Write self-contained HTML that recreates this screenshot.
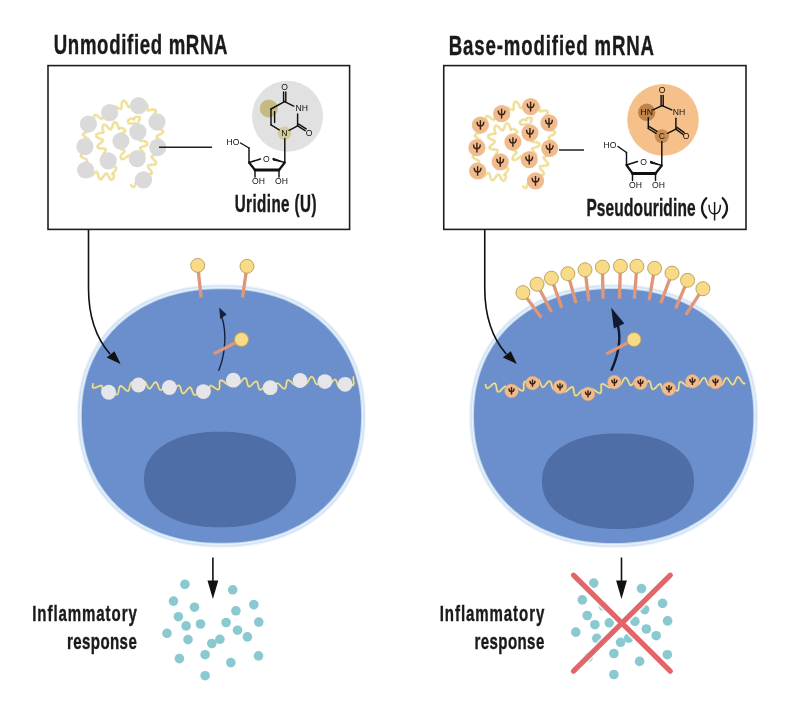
<!DOCTYPE html><html><head><meta charset="utf-8"><style>html,body{margin:0;padding:0;background:#fff;width:800px;height:707px;overflow:hidden}svg{display:block;will-change:transform}text{font-family:"Liberation Sans",sans-serif}</style></head><body>
<svg width="800" height="707" viewBox="0 0 800 707">
<rect width="800" height="707" fill="#ffffff"/>
<text transform="translate(53.75,54.2) scale(0.6600,1)" x="0" y="0" font-size="28.2" font-weight="700" fill="#1a1a1a" stroke="#1a1a1a" stroke-width="0.4" textLength="263.26" lengthAdjust="spacing">Unmodified mRNA</text>
<text transform="translate(448.8,54.8) scale(0.6600,1)" x="0" y="0" font-size="28.2" font-weight="700" fill="#1a1a1a" stroke="#1a1a1a" stroke-width="0.4" textLength="310.91" lengthAdjust="spacing">Base-modified mRNA</text>
<rect x="48" y="65.6" width="301.6" height="163.8" fill="none" stroke="#1e1e1e" stroke-width="1.6"/>
<rect x="443.75" y="65.6" width="302.25" height="163.8" fill="none" stroke="#1e1e1e" stroke-width="1.6"/>
<path d="M130.5,184.5 L131.1,185.14 L131.73,185.87 L132.41,186.56 L133.1,187.04 L133.77,187.11 L134.4,186.64 L134.96,185.59 L135.44,184.07 L135.85,182.35 L136.27,180.8 L136.78,179.77 L137.47,179.48 L138.42,179.93 L139.63,180.92 L141.04,182.06 L142.51,182.98 L143.86,183.34 L144.9,183.02 L145.43,182.09 L145.48,181.02 L145.2,179.79 L144.71,178.47 L144.14,177.2 L143.67,176.08 L143.45,175.19 L143.64,174.59 L144.3,174.26 L145.42,174.17 L146.88,174.21 L148.49,174.27 L150.01,174.21 L151.19,173.94 L151.85,173.38 L151.9,172.53 L151.4,171.42 L150.49,170.15 L149.44,168.83 L148.53,167.6 L148.02,166.55 L148.08,165.75 L148.75,165.22 L149.94,164.92 L151.47,164.77 L152.99,164.67 L154.41,164.48 L155.51,164.13 L156.14,163.57 L156.2,162.78 L155.7,161.79 L154.77,160.65 L153.65,159.47 L152.59,158.33 L151.86,157.31 L151.66,156.47 L152.07,155.83 L153.07,155.38 L154.49,155.04 L156.09,154.75 L157.6,154.42 L158.78,153.99 L159.44,153.41 L159.51,152.67 L159.05,151.8 L158.17,150.83 L157.08,149.82 L156.01,148.84 L155.14,147.93 L154.61,147.14 L154.51,146.47 L155.05,145.76 L156.26,145.23 L157.84,144.82 L159.5,144.44 L160.92,144 L161.87,143.45 L162.23,142.76 L162,141.94 L161.26,141.04 L160.19,140.1 L159,139.19 L157.89,138.35 L157.06,137.61 L156.64,136.96 L156.7,136.38 L157.25,135.83 L158.2,135.27 L159.42,134.67 L160.72,133.98 L161.99,133.14 L162.84,132.27 L163.11,131.42 L162.77,130.66 L161.87,130.01 L160.56,129.49 L159.06,129.09 L157.61,128.74 L156.42,128.36 L155.69,127.88 L155.51,127.23 L155.9,126.37 L156.75,125.32 L157.87,124.11 L158.99,122.87 L159.8,121.7 L160.05,120.73 L159.76,120.16 L158.98,119.74 L157.75,119.46 L156.22,119.26 L154.62,119.07 L153.22,118.81 L152.27,118.38 L151.93,117.71 L152.22,116.78 L153.01,115.63 L154.06,114.33 L155.07,113 L155.75,111.79 L155.91,110.79 L155.49,110.09 L154.54,109.7 L153.24,109.6 L151.78,109.72 L150.38,109.96 L149.21,110.22 L148.36,110.4 L147.88,110.46 L147.56,110.11 L147.56,109.32 L147.6,108.12 L147.5,106.66 L147.18,105.17 L146.63,103.89 L145.91,103.03 L145.08,102.76 L144.23,103.12 L143.39,104.07 L142.57,105.42 L141.73,106.88 L140.86,108.15 L139.95,108.91 L139.04,108.94 L138.22,108.2 L137.65,107.11 L137.2,105.72 L136.79,104.24 L136.37,102.9 L135.85,101.93 L135.18,101.52 L134.35,101.74 L133.39,102.52 L132.35,103.71 L131.32,105.03 L130.37,106.18 L129.56,106.91 L128.87,107.04 L128.26,106.52 L127.65,105.45 L126.96,104.06 L126.15,102.63 L125.2,101.46 L124.19,100.8 L123.23,100.81 L122.52,101.36 L122.03,102.34 L121.76,103.66 L121.67,105.15 L121.67,106.6 L121.61,107.83 L121.36,108.67 L120.81,109.03 L119.91,108.89 L118.69,108.36 L117.27,107.61 L115.82,106.87 L114.51,106.36 L113.5,106.28 L112.88,106.7 L112.65,107.62 L112.71,108.94 L112.91,110.47 L113.1,112.01 L113.13,113.36 L112.9,114.36 L112.38,114.94 L111.6,115.07 L110.65,114.8 L109.23,113.92 L107.84,112.79 L106.61,111.77 L105.62,111.14 L104.87,111.08 L104.32,111.62 L103.92,112.68 L103.61,114.08 L103.33,115.61 L103.03,117.02 L102.67,118.12 L102.21,118.76 L101.61,118.9 L100.84,118.55 L99.88,117.83 L98.74,116.92 L97.49,116.02 L96.23,115.28 L95.19,114.94 L94.43,115.19 L93.99,116.06 L93.83,117.44 L93.88,119.11 L94,120.77 L94.03,122.16 L93.84,123.08 L93.33,123.45 L92.45,123.34 L91.24,122.92 L89.79,122.4 L88.26,122.03 L86.85,121.97 L85.75,122.33 L85.15,123.06 L85.09,124.04 L85.58,125.15 L86.52,126.28 L87.7,127.34 L88.84,128.3 L89.68,129.13 L89.98,129.86 L89.64,130.52 L88.69,131.14 L87.31,131.75 L85.77,132.36 L84.36,132.99 L83.35,133.62 L82.9,134.26 L83.04,134.93 L83.67,135.66 L84.78,136.58 L86.09,137.51 L87.33,138.39 L88.26,139.19 L88.74,139.92 L88.67,140.59 L88.08,141.2 L87.05,141.77 L85.73,142.34 L84.32,142.91 L83.06,143.51 L82.14,144.14 L81.74,144.83 L81.96,145.59 L82.78,146.41 L83.9,147.2 L85.2,148.03 L86.45,148.88 L87.38,149.71 L87.8,150.5 L87.59,151.22 L86.76,151.88 L85.46,152.51 L83.92,153.12 L82.46,153.76 L81.35,154.46 L80.81,155.2 L80.91,155.99 L81.61,156.8 L82.77,157.58 L84.14,158.3 L85.47,158.98 L86.65,159.8 L87.24,160.68 L87.1,161.52 L86.24,162.28 L84.88,163 L83.32,163.73 L81.91,164.53 L80.95,165.44 L80.64,166.4 L81.04,167.32 L82.05,168.07 L83.49,168.52 L85.08,168.6 L86.54,168.38 L87.68,168.12 L88.16,168.02 L88.49,168.21 L88.63,168.76 L88.62,169.69 L88.52,170.97 L88.43,172.47 L88.46,173.98 L88.7,175.28 L89.22,176.13 L90.03,176.38 L91.08,175.99 L92.3,175.09 L93.56,173.92 L94.75,172.79 L95.78,172.02 L96.59,171.83 L97.21,172.31 L97.68,173.37 L98.08,174.83 L98.48,176.39 L98.96,177.79 L99.52,178.81 L100.22,179.37 L101.07,179.27 L102.03,178.46 L103.07,177.09 L104.1,175.5 L105.08,174.15 L105.97,173.44 L106.79,173.61 L107.58,174.61 L108.4,176.15 L109.27,177.79 L110.21,179.11 L111.16,179.81 L112.06,179.8 L112.83,179.16 L113.42,178.1 L113.77,176.85 L113.86,175.64 L113.69,174.64 L113.27,173.99 L112.73,173.76 L112.24,173.87 L111.96,174.04 L111.92,174.09 L112.14,173.92 L112.62,173.47 L113.35,172.71 L114.24,171.66 L115.16,170.42 L115.87,169.15 L116.16,168.02 L115.83,167.21 L114.82,166.8 L113.23,166.77 L111.34,166.93 L109.52,167.04 L108.15,166.84 L107.49,166.19 L107.59,165.06 L108.29,163.6 L109.3,162.05 L110.24,160.63 L110.82,159.5 L110.85,158.73 L110.36,158.15 L109.39,157.83 L108.03,157.74 L106.45,157.77 L104.87,157.81 L103.54,157.7 L102.66,157.34 L102.34,156.65 L102.58,155.64 L103.26,154.37 L104.18,152.98 L105.07,151.63 L105.67,150.46 L105.8,149.57 L105.36,148.99 L104.39,148.69 L103.01,148.57 L101.44,148.5 L99.91,148.37 L98.65,148.07 L97.82,147.57 L97.5,146.87 L97.68,146.02 L98.29,145.09 L99.21,144.19 L100.59,143.09 L101.87,142.05 L102.68,141.12 L102.79,140.33 L102.14,139.65 L100.85,139 L99.23,138.32 L97.66,137.54 L96.5,136.67 L96,135.74 L96.24,134.84 L97.15,134.04 L98.52,133.44 L100.06,133.06 L101.51,132.87 L102.63,132.78 L103.3,132.68 L103.52,132.41 L103.36,131.84 L103.03,130.87 L102.74,129.9 L102.57,128.65 L102.55,127.29 L102.75,126.01 L103.22,125.04 L103.97,124.61 L104.99,124.83 L106.19,125.68 L107.47,126.94 L108.7,128.25 L109.78,129.19 L110.66,129.45 L111.36,128.86 L111.95,127.54 L112.52,125.8 L113.16,124.08 L113.91,122.79 L114.76,122.19 L115.65,122.36 L116.52,123.17 L117.28,124.4 L117.9,125.76 L118.35,127 L118.64,127.98 L118.8,128.62 L118.84,128.92 L118.74,128.86 L118.85,128.59 L119.24,128.19 L120.03,127.94 L121.14,127.96 L122.42,128.29 L123.68,128.89 L124.67,129.69 L125.17,130.58 L125,131.47 L124.1,132.26 L122.62,132.95 L120.87,133.56 L119.27,134.19 L118.23,134.91 L117.99,135.77 L118.58,136.75 L119.81,137.78 L121.32,138.75 L122.73,139.57 L123.74,140.22 L124.18,140.8 L124.04,141.54 L123.29,142.38 L122.03,143.2 L120.53,144.01 L119.1,144.8 L118.09,145.59 L117.73,146.4 L118.11,147.22 L119.15,148.03 L120.61,148.79 L122.15,149.48 L123.47,150.1 L124.32,150.67 L124.59,151.23 L124.29,151.85 L123.58,152.57 L122.65,153.44 L121.73,154.46 L121.02,155.6 L120.68,156.77 L120.77,157.86 L121.27,158.71 L122.14,159.13 L123.3,159.02 L124.65,158.4 L126.02,157.42 L127.29,156.37 L128.33,155.62 L129.11,155.46 L129.68,156.06 L130.15,157.34 L130.65,159.04 L131.29,160.76 L132.1,162.07 L133.05,162.69 L134.02,162.52 L134.89,161.66 L135.56,160.35 L135.96,158.88 L136.09,157.52 L136.03,156.47 L135.92,155.85 L135.98,155.45 L136.34,155.3 L137.1,155.37 L138.26,155.6 L139.73,155.87 L141.34,156.04 L142.81,155.98 L143.87,155.58 L144.32,154.8 L144.09,153.68 L143.27,152.36 L142.13,150.98 L141.02,149.7 L140.28,148.64 L140.13,147.85 L140.65,147.28 L141.75,146.86 L143.18,146.47 L144.69,146.03 L146,145.49 L146.95,144.83 L147.43,144.04 L147.4,143.07 L146.72,142.17 L145.55,141.52 L144.07,141.15 L142.52,140.98 L141.16,140.9 L140.17,140.72 L139.68,140.29 L139.71,139.51 L140.17,138.37 L140.91,136.97 L141.68,135.48 L142.27,134.11 L142.47,133.03 L142.17,132.34 L141.36,132.04 L140.13,132.04 L138.63,132.18 L137.09,132.29 L135.62,132.32 L134.52,132.17 L133.95,131.68 L133.95,130.76 L134.45,129.45 L135.23,127.9 L136,126.34 L136.5,124.99 L136.52,124.02 L135.99,123.48 L134.97,123.32 L133.62,123.4 L132.14,123.55 L130.73,123.62 L129.53,123.5 L128.64,123.14 L128.07,122.56 L127.77,121.53 L128.51,119.85 L130.41,118.75 L132.46,118.72 L133.88,119.22 L134.44,119.63 L134.27,119.62 L133.77,119.12 L133.5,118.38 L134.43,117.68 L136.02,117.08 L137.79,116.74 L139.19,116.9 L139.81,117.69 L139.65,119 L139.05,120.48 L138.43,121.83 L138.06,122.79" fill="none" stroke="#f6ecbf" stroke-width="3" stroke-linejoin="round"/>
<path d="M130.5,184.5 L131.1,185.14 L131.73,185.87 L132.41,186.56 L133.1,187.04 L133.77,187.11 L134.4,186.64 L134.96,185.59 L135.44,184.07 L135.85,182.35 L136.27,180.8 L136.78,179.77 L137.47,179.48 L138.42,179.93 L139.63,180.92 L141.04,182.06 L142.51,182.98 L143.86,183.34 L144.9,183.02 L145.43,182.09 L145.48,181.02 L145.2,179.79 L144.71,178.47 L144.14,177.2 L143.67,176.08 L143.45,175.19 L143.64,174.59 L144.3,174.26 L145.42,174.17 L146.88,174.21 L148.49,174.27 L150.01,174.21 L151.19,173.94 L151.85,173.38 L151.9,172.53 L151.4,171.42 L150.49,170.15 L149.44,168.83 L148.53,167.6 L148.02,166.55 L148.08,165.75 L148.75,165.22 L149.94,164.92 L151.47,164.77 L152.99,164.67 L154.41,164.48 L155.51,164.13 L156.14,163.57 L156.2,162.78 L155.7,161.79 L154.77,160.65 L153.65,159.47 L152.59,158.33 L151.86,157.31 L151.66,156.47 L152.07,155.83 L153.07,155.38 L154.49,155.04 L156.09,154.75 L157.6,154.42 L158.78,153.99 L159.44,153.41 L159.51,152.67 L159.05,151.8 L158.17,150.83 L157.08,149.82 L156.01,148.84 L155.14,147.93 L154.61,147.14 L154.51,146.47 L155.05,145.76 L156.26,145.23 L157.84,144.82 L159.5,144.44 L160.92,144 L161.87,143.45 L162.23,142.76 L162,141.94 L161.26,141.04 L160.19,140.1 L159,139.19 L157.89,138.35 L157.06,137.61 L156.64,136.96 L156.7,136.38 L157.25,135.83 L158.2,135.27 L159.42,134.67 L160.72,133.98 L161.99,133.14 L162.84,132.27 L163.11,131.42 L162.77,130.66 L161.87,130.01 L160.56,129.49 L159.06,129.09 L157.61,128.74 L156.42,128.36 L155.69,127.88 L155.51,127.23 L155.9,126.37 L156.75,125.32 L157.87,124.11 L158.99,122.87 L159.8,121.7 L160.05,120.73 L159.76,120.16 L158.98,119.74 L157.75,119.46 L156.22,119.26 L154.62,119.07 L153.22,118.81 L152.27,118.38 L151.93,117.71 L152.22,116.78 L153.01,115.63 L154.06,114.33 L155.07,113 L155.75,111.79 L155.91,110.79 L155.49,110.09 L154.54,109.7 L153.24,109.6 L151.78,109.72 L150.38,109.96 L149.21,110.22 L148.36,110.4 L147.88,110.46 L147.56,110.11 L147.56,109.32 L147.6,108.12 L147.5,106.66 L147.18,105.17 L146.63,103.89 L145.91,103.03 L145.08,102.76 L144.23,103.12 L143.39,104.07 L142.57,105.42 L141.73,106.88 L140.86,108.15 L139.95,108.91 L139.04,108.94 L138.22,108.2 L137.65,107.11 L137.2,105.72 L136.79,104.24 L136.37,102.9 L135.85,101.93 L135.18,101.52 L134.35,101.74 L133.39,102.52 L132.35,103.71 L131.32,105.03 L130.37,106.18 L129.56,106.91 L128.87,107.04 L128.26,106.52 L127.65,105.45 L126.96,104.06 L126.15,102.63 L125.2,101.46 L124.19,100.8 L123.23,100.81 L122.52,101.36 L122.03,102.34 L121.76,103.66 L121.67,105.15 L121.67,106.6 L121.61,107.83 L121.36,108.67 L120.81,109.03 L119.91,108.89 L118.69,108.36 L117.27,107.61 L115.82,106.87 L114.51,106.36 L113.5,106.28 L112.88,106.7 L112.65,107.62 L112.71,108.94 L112.91,110.47 L113.1,112.01 L113.13,113.36 L112.9,114.36 L112.38,114.94 L111.6,115.07 L110.65,114.8 L109.23,113.92 L107.84,112.79 L106.61,111.77 L105.62,111.14 L104.87,111.08 L104.32,111.62 L103.92,112.68 L103.61,114.08 L103.33,115.61 L103.03,117.02 L102.67,118.12 L102.21,118.76 L101.61,118.9 L100.84,118.55 L99.88,117.83 L98.74,116.92 L97.49,116.02 L96.23,115.28 L95.19,114.94 L94.43,115.19 L93.99,116.06 L93.83,117.44 L93.88,119.11 L94,120.77 L94.03,122.16 L93.84,123.08 L93.33,123.45 L92.45,123.34 L91.24,122.92 L89.79,122.4 L88.26,122.03 L86.85,121.97 L85.75,122.33 L85.15,123.06 L85.09,124.04 L85.58,125.15 L86.52,126.28 L87.7,127.34 L88.84,128.3 L89.68,129.13 L89.98,129.86 L89.64,130.52 L88.69,131.14 L87.31,131.75 L85.77,132.36 L84.36,132.99 L83.35,133.62 L82.9,134.26 L83.04,134.93 L83.67,135.66 L84.78,136.58 L86.09,137.51 L87.33,138.39 L88.26,139.19 L88.74,139.92 L88.67,140.59 L88.08,141.2 L87.05,141.77 L85.73,142.34 L84.32,142.91 L83.06,143.51 L82.14,144.14 L81.74,144.83 L81.96,145.59 L82.78,146.41 L83.9,147.2 L85.2,148.03 L86.45,148.88 L87.38,149.71 L87.8,150.5 L87.59,151.22 L86.76,151.88 L85.46,152.51 L83.92,153.12 L82.46,153.76 L81.35,154.46 L80.81,155.2 L80.91,155.99 L81.61,156.8 L82.77,157.58 L84.14,158.3 L85.47,158.98 L86.65,159.8 L87.24,160.68 L87.1,161.52 L86.24,162.28 L84.88,163 L83.32,163.73 L81.91,164.53 L80.95,165.44 L80.64,166.4 L81.04,167.32 L82.05,168.07 L83.49,168.52 L85.08,168.6 L86.54,168.38 L87.68,168.12 L88.16,168.02 L88.49,168.21 L88.63,168.76 L88.62,169.69 L88.52,170.97 L88.43,172.47 L88.46,173.98 L88.7,175.28 L89.22,176.13 L90.03,176.38 L91.08,175.99 L92.3,175.09 L93.56,173.92 L94.75,172.79 L95.78,172.02 L96.59,171.83 L97.21,172.31 L97.68,173.37 L98.08,174.83 L98.48,176.39 L98.96,177.79 L99.52,178.81 L100.22,179.37 L101.07,179.27 L102.03,178.46 L103.07,177.09 L104.1,175.5 L105.08,174.15 L105.97,173.44 L106.79,173.61 L107.58,174.61 L108.4,176.15 L109.27,177.79 L110.21,179.11 L111.16,179.81 L112.06,179.8 L112.83,179.16 L113.42,178.1 L113.77,176.85 L113.86,175.64 L113.69,174.64 L113.27,173.99 L112.73,173.76 L112.24,173.87 L111.96,174.04 L111.92,174.09 L112.14,173.92 L112.62,173.47 L113.35,172.71 L114.24,171.66 L115.16,170.42 L115.87,169.15 L116.16,168.02 L115.83,167.21 L114.82,166.8 L113.23,166.77 L111.34,166.93 L109.52,167.04 L108.15,166.84 L107.49,166.19 L107.59,165.06 L108.29,163.6 L109.3,162.05 L110.24,160.63 L110.82,159.5 L110.85,158.73 L110.36,158.15 L109.39,157.83 L108.03,157.74 L106.45,157.77 L104.87,157.81 L103.54,157.7 L102.66,157.34 L102.34,156.65 L102.58,155.64 L103.26,154.37 L104.18,152.98 L105.07,151.63 L105.67,150.46 L105.8,149.57 L105.36,148.99 L104.39,148.69 L103.01,148.57 L101.44,148.5 L99.91,148.37 L98.65,148.07 L97.82,147.57 L97.5,146.87 L97.68,146.02 L98.29,145.09 L99.21,144.19 L100.59,143.09 L101.87,142.05 L102.68,141.12 L102.79,140.33 L102.14,139.65 L100.85,139 L99.23,138.32 L97.66,137.54 L96.5,136.67 L96,135.74 L96.24,134.84 L97.15,134.04 L98.52,133.44 L100.06,133.06 L101.51,132.87 L102.63,132.78 L103.3,132.68 L103.52,132.41 L103.36,131.84 L103.03,130.87 L102.74,129.9 L102.57,128.65 L102.55,127.29 L102.75,126.01 L103.22,125.04 L103.97,124.61 L104.99,124.83 L106.19,125.68 L107.47,126.94 L108.7,128.25 L109.78,129.19 L110.66,129.45 L111.36,128.86 L111.95,127.54 L112.52,125.8 L113.16,124.08 L113.91,122.79 L114.76,122.19 L115.65,122.36 L116.52,123.17 L117.28,124.4 L117.9,125.76 L118.35,127 L118.64,127.98 L118.8,128.62 L118.84,128.92 L118.74,128.86 L118.85,128.59 L119.24,128.19 L120.03,127.94 L121.14,127.96 L122.42,128.29 L123.68,128.89 L124.67,129.69 L125.17,130.58 L125,131.47 L124.1,132.26 L122.62,132.95 L120.87,133.56 L119.27,134.19 L118.23,134.91 L117.99,135.77 L118.58,136.75 L119.81,137.78 L121.32,138.75 L122.73,139.57 L123.74,140.22 L124.18,140.8 L124.04,141.54 L123.29,142.38 L122.03,143.2 L120.53,144.01 L119.1,144.8 L118.09,145.59 L117.73,146.4 L118.11,147.22 L119.15,148.03 L120.61,148.79 L122.15,149.48 L123.47,150.1 L124.32,150.67 L124.59,151.23 L124.29,151.85 L123.58,152.57 L122.65,153.44 L121.73,154.46 L121.02,155.6 L120.68,156.77 L120.77,157.86 L121.27,158.71 L122.14,159.13 L123.3,159.02 L124.65,158.4 L126.02,157.42 L127.29,156.37 L128.33,155.62 L129.11,155.46 L129.68,156.06 L130.15,157.34 L130.65,159.04 L131.29,160.76 L132.1,162.07 L133.05,162.69 L134.02,162.52 L134.89,161.66 L135.56,160.35 L135.96,158.88 L136.09,157.52 L136.03,156.47 L135.92,155.85 L135.98,155.45 L136.34,155.3 L137.1,155.37 L138.26,155.6 L139.73,155.87 L141.34,156.04 L142.81,155.98 L143.87,155.58 L144.32,154.8 L144.09,153.68 L143.27,152.36 L142.13,150.98 L141.02,149.7 L140.28,148.64 L140.13,147.85 L140.65,147.28 L141.75,146.86 L143.18,146.47 L144.69,146.03 L146,145.49 L146.95,144.83 L147.43,144.04 L147.4,143.07 L146.72,142.17 L145.55,141.52 L144.07,141.15 L142.52,140.98 L141.16,140.9 L140.17,140.72 L139.68,140.29 L139.71,139.51 L140.17,138.37 L140.91,136.97 L141.68,135.48 L142.27,134.11 L142.47,133.03 L142.17,132.34 L141.36,132.04 L140.13,132.04 L138.63,132.18 L137.09,132.29 L135.62,132.32 L134.52,132.17 L133.95,131.68 L133.95,130.76 L134.45,129.45 L135.23,127.9 L136,126.34 L136.5,124.99 L136.52,124.02 L135.99,123.48 L134.97,123.32 L133.62,123.4 L132.14,123.55 L130.73,123.62 L129.53,123.5 L128.64,123.14 L128.07,122.56 L127.77,121.53 L128.51,119.85 L130.41,118.75 L132.46,118.72 L133.88,119.22 L134.44,119.63 L134.27,119.62 L133.77,119.12 L133.5,118.38 L134.43,117.68 L136.02,117.08 L137.79,116.74 L139.19,116.9 L139.81,117.69 L139.65,119 L139.05,120.48 L138.43,121.83 L138.06,122.79" fill="none" stroke="#e8d47c" stroke-width="1.6" stroke-dasharray="0.9 0.7" stroke-linejoin="round"/>
<circle cx="109.6" cy="112.7" r="8.6" fill="#dadada"/>
<circle cx="138.6" cy="105.6" r="8.6" fill="#dadada"/>
<circle cx="88.4" cy="124" r="8.6" fill="#dadada"/>
<circle cx="157" cy="121.9" r="8.6" fill="#dadada"/>
<circle cx="137.9" cy="131.8" r="8.6" fill="#dadada"/>
<circle cx="120.9" cy="141" r="8.6" fill="#dadada"/>
<circle cx="84.9" cy="146.6" r="8.6" fill="#dadada"/>
<circle cx="157.7" cy="147.3" r="8.6" fill="#dadada"/>
<circle cx="108.2" cy="160.8" r="8.6" fill="#dadada"/>
<circle cx="137.2" cy="158.6" r="8.6" fill="#dadada"/>
<circle cx="85.6" cy="170" r="8.6" fill="#dadada"/>
<circle cx="143.5" cy="179.9" r="8.6" fill="#dadada"/>
<path d="M522.5,185.5 L523.1,186.14 L523.73,186.87 L524.41,187.56 L525.1,188.04 L525.77,188.11 L526.4,187.64 L526.96,186.59 L527.44,185.07 L527.85,183.35 L528.27,181.8 L528.78,180.77 L529.47,180.48 L530.42,180.93 L531.63,181.92 L533.04,183.06 L534.51,183.98 L535.86,184.34 L536.9,184.02 L537.43,183.09 L537.48,182.02 L537.2,180.79 L536.71,179.47 L536.14,178.2 L535.67,177.08 L535.45,176.19 L535.64,175.59 L536.3,175.26 L537.42,175.17 L538.88,175.21 L540.49,175.27 L542.01,175.21 L543.19,174.94 L543.85,174.38 L543.9,173.53 L543.4,172.42 L542.49,171.15 L541.44,169.83 L540.53,168.6 L540.02,167.55 L540.08,166.75 L540.75,166.22 L541.94,165.92 L543.47,165.77 L544.99,165.67 L546.41,165.48 L547.51,165.13 L548.14,164.57 L548.2,163.78 L547.7,162.79 L546.77,161.65 L545.65,160.47 L544.59,159.33 L543.86,158.31 L543.66,157.47 L544.07,156.83 L545.07,156.38 L546.49,156.04 L548.09,155.75 L549.6,155.42 L550.78,154.99 L551.44,154.41 L551.51,153.67 L551.05,152.8 L550.17,151.83 L549.08,150.82 L548.01,149.84 L547.14,148.93 L546.61,148.14 L546.51,147.47 L547.05,146.76 L548.26,146.23 L549.84,145.82 L551.5,145.44 L552.92,145 L553.87,144.45 L554.23,143.76 L554,142.94 L553.26,142.04 L552.19,141.1 L551,140.19 L549.89,139.35 L549.06,138.61 L548.64,137.96 L548.7,137.38 L549.25,136.83 L550.2,136.27 L551.42,135.67 L552.72,134.98 L553.99,134.14 L554.84,133.27 L555.11,132.42 L554.77,131.66 L553.87,131.01 L552.56,130.49 L551.06,130.09 L549.61,129.74 L548.42,129.36 L547.69,128.88 L547.51,128.23 L547.9,127.37 L548.75,126.32 L549.87,125.11 L550.99,123.87 L551.8,122.7 L552.05,121.73 L551.76,121.16 L550.98,120.74 L549.75,120.46 L548.22,120.26 L546.62,120.07 L545.22,119.81 L544.27,119.38 L543.93,118.71 L544.22,117.78 L545.01,116.63 L546.06,115.33 L547.07,114 L547.75,112.79 L547.91,111.79 L547.49,111.09 L546.54,110.7 L545.24,110.6 L543.78,110.72 L542.38,110.96 L541.21,111.22 L540.36,111.4 L539.88,111.46 L539.56,111.11 L539.56,110.32 L539.6,109.12 L539.5,107.66 L539.18,106.17 L538.63,104.89 L537.91,104.03 L537.08,103.76 L536.23,104.12 L535.39,105.07 L534.57,106.42 L533.73,107.88 L532.86,109.15 L531.95,109.91 L531.04,109.94 L530.22,109.2 L529.65,108.11 L529.2,106.72 L528.79,105.24 L528.37,103.9 L527.85,102.93 L527.18,102.52 L526.35,102.74 L525.39,103.52 L524.35,104.71 L523.32,106.03 L522.37,107.18 L521.56,107.91 L520.87,108.04 L520.26,107.52 L519.65,106.45 L518.96,105.06 L518.15,103.63 L517.2,102.46 L516.19,101.8 L515.23,101.81 L514.52,102.36 L514.03,103.34 L513.76,104.66 L513.67,106.15 L513.67,107.6 L513.61,108.83 L513.36,109.67 L512.81,110.03 L511.91,109.89 L510.69,109.36 L509.27,108.61 L507.82,107.87 L506.51,107.36 L505.5,107.28 L504.88,107.7 L504.65,108.62 L504.71,109.94 L504.91,111.47 L505.1,113.01 L505.13,114.36 L504.9,115.36 L504.38,115.94 L503.6,116.07 L502.65,115.8 L501.23,114.92 L499.84,113.79 L498.61,112.77 L497.62,112.14 L496.87,112.08 L496.32,112.62 L495.92,113.68 L495.61,115.08 L495.33,116.61 L495.03,118.02 L494.67,119.12 L494.21,119.76 L493.61,119.9 L492.84,119.55 L491.88,118.83 L490.74,117.92 L489.49,117.02 L488.23,116.28 L487.19,115.94 L486.43,116.19 L485.99,117.06 L485.83,118.44 L485.88,120.11 L486,121.77 L486.03,123.16 L485.84,124.08 L485.33,124.45 L484.45,124.34 L483.24,123.92 L481.79,123.4 L480.26,123.03 L478.85,122.97 L477.75,123.33 L477.15,124.06 L477.09,125.04 L477.58,126.15 L478.52,127.28 L479.7,128.34 L480.84,129.3 L481.68,130.13 L481.98,130.86 L481.64,131.52 L480.69,132.14 L479.31,132.75 L477.77,133.36 L476.36,133.99 L475.35,134.62 L474.9,135.26 L475.04,135.93 L475.67,136.66 L476.78,137.58 L478.09,138.51 L479.33,139.39 L480.26,140.19 L480.74,140.92 L480.67,141.59 L480.08,142.2 L479.05,142.77 L477.73,143.34 L476.32,143.91 L475.06,144.51 L474.14,145.14 L473.74,145.83 L473.96,146.59 L474.78,147.41 L475.9,148.2 L477.2,149.03 L478.45,149.88 L479.38,150.71 L479.8,151.5 L479.59,152.22 L478.76,152.88 L477.46,153.51 L475.92,154.12 L474.46,154.76 L473.35,155.46 L472.81,156.2 L472.91,156.99 L473.61,157.8 L474.77,158.58 L476.14,159.3 L477.47,159.98 L478.65,160.8 L479.24,161.68 L479.1,162.52 L478.24,163.28 L476.88,164 L475.32,164.73 L473.91,165.53 L472.95,166.44 L472.64,167.4 L473.04,168.32 L474.05,169.07 L475.49,169.52 L477.08,169.6 L478.54,169.38 L479.68,169.12 L480.16,169.02 L480.49,169.21 L480.63,169.76 L480.62,170.69 L480.52,171.97 L480.43,173.47 L480.46,174.98 L480.7,176.28 L481.22,177.13 L482.03,177.38 L483.08,176.99 L484.3,176.09 L485.56,174.92 L486.75,173.79 L487.78,173.02 L488.59,172.83 L489.21,173.31 L489.68,174.37 L490.08,175.83 L490.48,177.39 L490.96,178.79 L491.52,179.81 L492.22,180.37 L493.07,180.27 L494.03,179.46 L495.07,178.09 L496.1,176.5 L497.08,175.15 L497.97,174.44 L498.79,174.61 L499.58,175.61 L500.4,177.15 L501.27,178.79 L502.21,180.11 L503.16,180.81 L504.06,180.8 L504.83,180.16 L505.42,179.1 L505.77,177.85 L505.86,176.64 L505.69,175.64 L505.27,174.99 L504.73,174.76 L504.24,174.87 L503.96,175.04 L503.92,175.09 L504.14,174.92 L504.62,174.47 L505.35,173.71 L506.24,172.66 L507.16,171.42 L507.87,170.15 L508.16,169.02 L507.83,168.21 L506.82,167.8 L505.23,167.77 L503.34,167.93 L501.52,168.04 L500.15,167.84 L499.49,167.19 L499.59,166.06 L500.29,164.6 L501.3,163.05 L502.24,161.63 L502.82,160.5 L502.85,159.73 L502.36,159.15 L501.39,158.83 L500.03,158.74 L498.45,158.77 L496.87,158.81 L495.54,158.7 L494.66,158.34 L494.34,157.65 L494.58,156.64 L495.26,155.37 L496.18,153.98 L497.07,152.63 L497.67,151.46 L497.8,150.57 L497.36,149.99 L496.39,149.69 L495.01,149.57 L493.44,149.5 L491.91,149.37 L490.65,149.07 L489.82,148.57 L489.5,147.87 L489.68,147.02 L490.29,146.09 L491.21,145.19 L492.59,144.09 L493.87,143.05 L494.68,142.12 L494.79,141.33 L494.14,140.65 L492.85,140 L491.23,139.32 L489.66,138.54 L488.5,137.67 L488,136.74 L488.24,135.84 L489.15,135.04 L490.52,134.44 L492.06,134.06 L493.51,133.87 L494.63,133.78 L495.3,133.68 L495.52,133.41 L495.36,132.84 L495.03,131.87 L494.74,130.9 L494.57,129.65 L494.55,128.29 L494.75,127.01 L495.22,126.04 L495.97,125.61 L496.99,125.83 L498.19,126.68 L499.47,127.94 L500.7,129.25 L501.78,130.19 L502.66,130.45 L503.36,129.86 L503.95,128.54 L504.52,126.8 L505.16,125.08 L505.91,123.79 L506.76,123.19 L507.65,123.36 L508.52,124.17 L509.28,125.4 L509.9,126.76 L510.35,128 L510.64,128.98 L510.8,129.62 L510.84,129.92 L510.74,129.86 L510.85,129.59 L511.24,129.19 L512.03,128.94 L513.14,128.96 L514.42,129.29 L515.68,129.89 L516.67,130.69 L517.17,131.58 L517,132.47 L516.1,133.26 L514.62,133.95 L512.87,134.56 L511.27,135.19 L510.23,135.91 L509.99,136.77 L510.58,137.75 L511.81,138.78 L513.32,139.75 L514.73,140.57 L515.74,141.22 L516.18,141.8 L516.04,142.54 L515.29,143.38 L514.03,144.2 L512.53,145.01 L511.1,145.8 L510.09,146.59 L509.73,147.4 L510.11,148.22 L511.15,149.03 L512.61,149.79 L514.15,150.48 L515.47,151.1 L516.32,151.67 L516.59,152.23 L516.29,152.85 L515.58,153.57 L514.65,154.44 L513.73,155.46 L513.02,156.6 L512.68,157.77 L512.77,158.86 L513.27,159.71 L514.14,160.13 L515.3,160.02 L516.65,159.4 L518.02,158.42 L519.29,157.37 L520.33,156.62 L521.11,156.46 L521.68,157.06 L522.15,158.34 L522.65,160.04 L523.29,161.76 L524.1,163.07 L525.05,163.69 L526.02,163.52 L526.89,162.66 L527.56,161.35 L527.96,159.88 L528.09,158.52 L528.03,157.47 L527.92,156.85 L527.98,156.45 L528.34,156.3 L529.1,156.37 L530.26,156.6 L531.73,156.87 L533.34,157.04 L534.81,156.98 L535.87,156.58 L536.32,155.8 L536.09,154.68 L535.27,153.36 L534.13,151.98 L533.02,150.7 L532.28,149.64 L532.13,148.85 L532.65,148.28 L533.75,147.86 L535.18,147.47 L536.69,147.03 L538,146.49 L538.95,145.83 L539.43,145.04 L539.4,144.07 L538.72,143.17 L537.55,142.52 L536.07,142.15 L534.52,141.98 L533.16,141.9 L532.17,141.72 L531.68,141.29 L531.71,140.51 L532.17,139.37 L532.91,137.97 L533.68,136.48 L534.27,135.11 L534.47,134.03 L534.17,133.34 L533.36,133.04 L532.13,133.04 L530.63,133.18 L529.09,133.29 L527.62,133.32 L526.52,133.17 L525.95,132.68 L525.95,131.76 L526.45,130.45 L527.23,128.9 L528,127.34 L528.5,125.99 L528.52,125.02 L527.99,124.48 L526.97,124.32 L525.62,124.4 L524.14,124.55 L522.73,124.62 L521.53,124.5 L520.64,124.14 L520.07,123.56 L519.77,122.53 L520.51,120.85 L522.41,119.75 L524.46,119.72 L525.88,120.22 L526.44,120.63 L526.27,120.62 L525.77,120.12 L525.5,119.38 L526.43,118.68 L528.02,118.08 L529.79,117.74 L531.19,117.9 L531.81,118.69 L531.65,120 L531.05,121.48 L530.43,122.83 L530.06,123.79" fill="none" stroke="#f6ecbf" stroke-width="3" stroke-linejoin="round"/>
<path d="M522.5,185.5 L523.1,186.14 L523.73,186.87 L524.41,187.56 L525.1,188.04 L525.77,188.11 L526.4,187.64 L526.96,186.59 L527.44,185.07 L527.85,183.35 L528.27,181.8 L528.78,180.77 L529.47,180.48 L530.42,180.93 L531.63,181.92 L533.04,183.06 L534.51,183.98 L535.86,184.34 L536.9,184.02 L537.43,183.09 L537.48,182.02 L537.2,180.79 L536.71,179.47 L536.14,178.2 L535.67,177.08 L535.45,176.19 L535.64,175.59 L536.3,175.26 L537.42,175.17 L538.88,175.21 L540.49,175.27 L542.01,175.21 L543.19,174.94 L543.85,174.38 L543.9,173.53 L543.4,172.42 L542.49,171.15 L541.44,169.83 L540.53,168.6 L540.02,167.55 L540.08,166.75 L540.75,166.22 L541.94,165.92 L543.47,165.77 L544.99,165.67 L546.41,165.48 L547.51,165.13 L548.14,164.57 L548.2,163.78 L547.7,162.79 L546.77,161.65 L545.65,160.47 L544.59,159.33 L543.86,158.31 L543.66,157.47 L544.07,156.83 L545.07,156.38 L546.49,156.04 L548.09,155.75 L549.6,155.42 L550.78,154.99 L551.44,154.41 L551.51,153.67 L551.05,152.8 L550.17,151.83 L549.08,150.82 L548.01,149.84 L547.14,148.93 L546.61,148.14 L546.51,147.47 L547.05,146.76 L548.26,146.23 L549.84,145.82 L551.5,145.44 L552.92,145 L553.87,144.45 L554.23,143.76 L554,142.94 L553.26,142.04 L552.19,141.1 L551,140.19 L549.89,139.35 L549.06,138.61 L548.64,137.96 L548.7,137.38 L549.25,136.83 L550.2,136.27 L551.42,135.67 L552.72,134.98 L553.99,134.14 L554.84,133.27 L555.11,132.42 L554.77,131.66 L553.87,131.01 L552.56,130.49 L551.06,130.09 L549.61,129.74 L548.42,129.36 L547.69,128.88 L547.51,128.23 L547.9,127.37 L548.75,126.32 L549.87,125.11 L550.99,123.87 L551.8,122.7 L552.05,121.73 L551.76,121.16 L550.98,120.74 L549.75,120.46 L548.22,120.26 L546.62,120.07 L545.22,119.81 L544.27,119.38 L543.93,118.71 L544.22,117.78 L545.01,116.63 L546.06,115.33 L547.07,114 L547.75,112.79 L547.91,111.79 L547.49,111.09 L546.54,110.7 L545.24,110.6 L543.78,110.72 L542.38,110.96 L541.21,111.22 L540.36,111.4 L539.88,111.46 L539.56,111.11 L539.56,110.32 L539.6,109.12 L539.5,107.66 L539.18,106.17 L538.63,104.89 L537.91,104.03 L537.08,103.76 L536.23,104.12 L535.39,105.07 L534.57,106.42 L533.73,107.88 L532.86,109.15 L531.95,109.91 L531.04,109.94 L530.22,109.2 L529.65,108.11 L529.2,106.72 L528.79,105.24 L528.37,103.9 L527.85,102.93 L527.18,102.52 L526.35,102.74 L525.39,103.52 L524.35,104.71 L523.32,106.03 L522.37,107.18 L521.56,107.91 L520.87,108.04 L520.26,107.52 L519.65,106.45 L518.96,105.06 L518.15,103.63 L517.2,102.46 L516.19,101.8 L515.23,101.81 L514.52,102.36 L514.03,103.34 L513.76,104.66 L513.67,106.15 L513.67,107.6 L513.61,108.83 L513.36,109.67 L512.81,110.03 L511.91,109.89 L510.69,109.36 L509.27,108.61 L507.82,107.87 L506.51,107.36 L505.5,107.28 L504.88,107.7 L504.65,108.62 L504.71,109.94 L504.91,111.47 L505.1,113.01 L505.13,114.36 L504.9,115.36 L504.38,115.94 L503.6,116.07 L502.65,115.8 L501.23,114.92 L499.84,113.79 L498.61,112.77 L497.62,112.14 L496.87,112.08 L496.32,112.62 L495.92,113.68 L495.61,115.08 L495.33,116.61 L495.03,118.02 L494.67,119.12 L494.21,119.76 L493.61,119.9 L492.84,119.55 L491.88,118.83 L490.74,117.92 L489.49,117.02 L488.23,116.28 L487.19,115.94 L486.43,116.19 L485.99,117.06 L485.83,118.44 L485.88,120.11 L486,121.77 L486.03,123.16 L485.84,124.08 L485.33,124.45 L484.45,124.34 L483.24,123.92 L481.79,123.4 L480.26,123.03 L478.85,122.97 L477.75,123.33 L477.15,124.06 L477.09,125.04 L477.58,126.15 L478.52,127.28 L479.7,128.34 L480.84,129.3 L481.68,130.13 L481.98,130.86 L481.64,131.52 L480.69,132.14 L479.31,132.75 L477.77,133.36 L476.36,133.99 L475.35,134.62 L474.9,135.26 L475.04,135.93 L475.67,136.66 L476.78,137.58 L478.09,138.51 L479.33,139.39 L480.26,140.19 L480.74,140.92 L480.67,141.59 L480.08,142.2 L479.05,142.77 L477.73,143.34 L476.32,143.91 L475.06,144.51 L474.14,145.14 L473.74,145.83 L473.96,146.59 L474.78,147.41 L475.9,148.2 L477.2,149.03 L478.45,149.88 L479.38,150.71 L479.8,151.5 L479.59,152.22 L478.76,152.88 L477.46,153.51 L475.92,154.12 L474.46,154.76 L473.35,155.46 L472.81,156.2 L472.91,156.99 L473.61,157.8 L474.77,158.58 L476.14,159.3 L477.47,159.98 L478.65,160.8 L479.24,161.68 L479.1,162.52 L478.24,163.28 L476.88,164 L475.32,164.73 L473.91,165.53 L472.95,166.44 L472.64,167.4 L473.04,168.32 L474.05,169.07 L475.49,169.52 L477.08,169.6 L478.54,169.38 L479.68,169.12 L480.16,169.02 L480.49,169.21 L480.63,169.76 L480.62,170.69 L480.52,171.97 L480.43,173.47 L480.46,174.98 L480.7,176.28 L481.22,177.13 L482.03,177.38 L483.08,176.99 L484.3,176.09 L485.56,174.92 L486.75,173.79 L487.78,173.02 L488.59,172.83 L489.21,173.31 L489.68,174.37 L490.08,175.83 L490.48,177.39 L490.96,178.79 L491.52,179.81 L492.22,180.37 L493.07,180.27 L494.03,179.46 L495.07,178.09 L496.1,176.5 L497.08,175.15 L497.97,174.44 L498.79,174.61 L499.58,175.61 L500.4,177.15 L501.27,178.79 L502.21,180.11 L503.16,180.81 L504.06,180.8 L504.83,180.16 L505.42,179.1 L505.77,177.85 L505.86,176.64 L505.69,175.64 L505.27,174.99 L504.73,174.76 L504.24,174.87 L503.96,175.04 L503.92,175.09 L504.14,174.92 L504.62,174.47 L505.35,173.71 L506.24,172.66 L507.16,171.42 L507.87,170.15 L508.16,169.02 L507.83,168.21 L506.82,167.8 L505.23,167.77 L503.34,167.93 L501.52,168.04 L500.15,167.84 L499.49,167.19 L499.59,166.06 L500.29,164.6 L501.3,163.05 L502.24,161.63 L502.82,160.5 L502.85,159.73 L502.36,159.15 L501.39,158.83 L500.03,158.74 L498.45,158.77 L496.87,158.81 L495.54,158.7 L494.66,158.34 L494.34,157.65 L494.58,156.64 L495.26,155.37 L496.18,153.98 L497.07,152.63 L497.67,151.46 L497.8,150.57 L497.36,149.99 L496.39,149.69 L495.01,149.57 L493.44,149.5 L491.91,149.37 L490.65,149.07 L489.82,148.57 L489.5,147.87 L489.68,147.02 L490.29,146.09 L491.21,145.19 L492.59,144.09 L493.87,143.05 L494.68,142.12 L494.79,141.33 L494.14,140.65 L492.85,140 L491.23,139.32 L489.66,138.54 L488.5,137.67 L488,136.74 L488.24,135.84 L489.15,135.04 L490.52,134.44 L492.06,134.06 L493.51,133.87 L494.63,133.78 L495.3,133.68 L495.52,133.41 L495.36,132.84 L495.03,131.87 L494.74,130.9 L494.57,129.65 L494.55,128.29 L494.75,127.01 L495.22,126.04 L495.97,125.61 L496.99,125.83 L498.19,126.68 L499.47,127.94 L500.7,129.25 L501.78,130.19 L502.66,130.45 L503.36,129.86 L503.95,128.54 L504.52,126.8 L505.16,125.08 L505.91,123.79 L506.76,123.19 L507.65,123.36 L508.52,124.17 L509.28,125.4 L509.9,126.76 L510.35,128 L510.64,128.98 L510.8,129.62 L510.84,129.92 L510.74,129.86 L510.85,129.59 L511.24,129.19 L512.03,128.94 L513.14,128.96 L514.42,129.29 L515.68,129.89 L516.67,130.69 L517.17,131.58 L517,132.47 L516.1,133.26 L514.62,133.95 L512.87,134.56 L511.27,135.19 L510.23,135.91 L509.99,136.77 L510.58,137.75 L511.81,138.78 L513.32,139.75 L514.73,140.57 L515.74,141.22 L516.18,141.8 L516.04,142.54 L515.29,143.38 L514.03,144.2 L512.53,145.01 L511.1,145.8 L510.09,146.59 L509.73,147.4 L510.11,148.22 L511.15,149.03 L512.61,149.79 L514.15,150.48 L515.47,151.1 L516.32,151.67 L516.59,152.23 L516.29,152.85 L515.58,153.57 L514.65,154.44 L513.73,155.46 L513.02,156.6 L512.68,157.77 L512.77,158.86 L513.27,159.71 L514.14,160.13 L515.3,160.02 L516.65,159.4 L518.02,158.42 L519.29,157.37 L520.33,156.62 L521.11,156.46 L521.68,157.06 L522.15,158.34 L522.65,160.04 L523.29,161.76 L524.1,163.07 L525.05,163.69 L526.02,163.52 L526.89,162.66 L527.56,161.35 L527.96,159.88 L528.09,158.52 L528.03,157.47 L527.92,156.85 L527.98,156.45 L528.34,156.3 L529.1,156.37 L530.26,156.6 L531.73,156.87 L533.34,157.04 L534.81,156.98 L535.87,156.58 L536.32,155.8 L536.09,154.68 L535.27,153.36 L534.13,151.98 L533.02,150.7 L532.28,149.64 L532.13,148.85 L532.65,148.28 L533.75,147.86 L535.18,147.47 L536.69,147.03 L538,146.49 L538.95,145.83 L539.43,145.04 L539.4,144.07 L538.72,143.17 L537.55,142.52 L536.07,142.15 L534.52,141.98 L533.16,141.9 L532.17,141.72 L531.68,141.29 L531.71,140.51 L532.17,139.37 L532.91,137.97 L533.68,136.48 L534.27,135.11 L534.47,134.03 L534.17,133.34 L533.36,133.04 L532.13,133.04 L530.63,133.18 L529.09,133.29 L527.62,133.32 L526.52,133.17 L525.95,132.68 L525.95,131.76 L526.45,130.45 L527.23,128.9 L528,127.34 L528.5,125.99 L528.52,125.02 L527.99,124.48 L526.97,124.32 L525.62,124.4 L524.14,124.55 L522.73,124.62 L521.53,124.5 L520.64,124.14 L520.07,123.56 L519.77,122.53 L520.51,120.85 L522.41,119.75 L524.46,119.72 L525.88,120.22 L526.44,120.63 L526.27,120.62 L525.77,120.12 L525.5,119.38 L526.43,118.68 L528.02,118.08 L529.79,117.74 L531.19,117.9 L531.81,118.69 L531.65,120 L531.05,121.48 L530.43,122.83 L530.06,123.79" fill="none" stroke="#e8d47c" stroke-width="1.6" stroke-dasharray="0.9 0.7" stroke-linejoin="round"/>
<circle cx="501.6" cy="113.7" r="8.6" fill="#f0bc8e"/>
<path d="M501.6,108.87 L501.6,118.53 M498.24,110.55 C498.24,116.22 504.96,116.22 504.96,110.55" fill="none" stroke="#3a2216" stroke-width="1.45"/>
<circle cx="530.6" cy="106.6" r="8.6" fill="#f0bc8e"/>
<path d="M530.6,101.77 L530.6,111.43 M527.24,103.45 C527.24,109.12 533.96,109.12 533.96,103.45" fill="none" stroke="#3a2216" stroke-width="1.45"/>
<circle cx="480.4" cy="125" r="8.6" fill="#f0bc8e"/>
<path d="M480.4,120.17 L480.4,129.83 M477.04,121.85 C477.04,127.52 483.76,127.52 483.76,121.85" fill="none" stroke="#3a2216" stroke-width="1.45"/>
<circle cx="549" cy="122.9" r="8.6" fill="#f0bc8e"/>
<path d="M549,118.07 L549,127.73 M545.64,119.75 C545.64,125.42 552.36,125.42 552.36,119.75" fill="none" stroke="#3a2216" stroke-width="1.45"/>
<circle cx="529.9" cy="132.8" r="8.6" fill="#f0bc8e"/>
<path d="M529.9,127.97 L529.9,137.63 M526.54,129.65 C526.54,135.32 533.26,135.32 533.26,129.65" fill="none" stroke="#3a2216" stroke-width="1.45"/>
<circle cx="512.9" cy="142" r="8.6" fill="#f0bc8e"/>
<path d="M512.9,137.17 L512.9,146.83 M509.54,138.85 C509.54,144.52 516.26,144.52 516.26,138.85" fill="none" stroke="#3a2216" stroke-width="1.45"/>
<circle cx="476.9" cy="147.6" r="8.6" fill="#f0bc8e"/>
<path d="M476.9,142.77 L476.9,152.43 M473.54,144.45 C473.54,150.12 480.26,150.12 480.26,144.45" fill="none" stroke="#3a2216" stroke-width="1.45"/>
<circle cx="549.7" cy="148.3" r="8.6" fill="#f0bc8e"/>
<path d="M549.7,143.47 L549.7,153.13 M546.34,145.15 C546.34,150.82 553.06,150.82 553.06,145.15" fill="none" stroke="#3a2216" stroke-width="1.45"/>
<circle cx="500.2" cy="161.8" r="8.6" fill="#f0bc8e"/>
<path d="M500.2,156.97 L500.2,166.63 M496.84,158.65 C496.84,164.32 503.56,164.32 503.56,158.65" fill="none" stroke="#3a2216" stroke-width="1.45"/>
<circle cx="529.2" cy="159.6" r="8.6" fill="#f0bc8e"/>
<path d="M529.2,154.77 L529.2,164.43 M525.84,156.45 C525.84,162.12 532.56,162.12 532.56,156.45" fill="none" stroke="#3a2216" stroke-width="1.45"/>
<circle cx="477.6" cy="171" r="8.6" fill="#f0bc8e"/>
<path d="M477.6,166.17 L477.6,175.83 M474.24,167.85 C474.24,173.52 480.96,173.52 480.96,167.85" fill="none" stroke="#3a2216" stroke-width="1.45"/>
<circle cx="535.5" cy="180.9" r="8.6" fill="#f0bc8e"/>
<path d="M535.5,176.07 L535.5,185.73 M532.14,177.75 C532.14,183.42 538.86,183.42 538.86,177.75" fill="none" stroke="#3a2216" stroke-width="1.45"/>
<line x1="159" y1="147.2" x2="212" y2="147.2" stroke="#1e1e1e" stroke-width="1.5"/>
<line x1="559" y1="150" x2="584" y2="150" stroke="#1e1e1e" stroke-width="1.5"/>
<circle cx="287.5" cy="116.3" r="35.5" fill="#e1e1e1"/>
<circle cx="268.8" cy="108.4" r="9" fill="#c4ba82"/>
<circle cx="284.4" cy="133.3" r="6.8" fill="#d3cc9c"/>
<line x1="284.6" y1="101.6" x2="271" y2="109" stroke="#111" stroke-width="1.45" stroke-linecap="round"/>
<line x1="271" y1="109" x2="271" y2="124.8" stroke="#111" stroke-width="1.45" stroke-linecap="round"/>
<line x1="274.6" y1="111.8" x2="274.6" y2="122.6" stroke="#111" stroke-width="1.45" stroke-linecap="round"/>
<line x1="271" y1="124.8" x2="279.2" y2="129.9" stroke="#111" stroke-width="1.45" stroke-linecap="round"/>
<line x1="289.1" y1="130.4" x2="297.6" y2="125.9" stroke="#111" stroke-width="1.45" stroke-linecap="round"/>
<line x1="297.6" y1="125.9" x2="297.6" y2="114" stroke="#111" stroke-width="1.45" stroke-linecap="round"/>
<line x1="293.7" y1="106.1" x2="284.6" y2="101.6" stroke="#111" stroke-width="1.45" stroke-linecap="round"/>
<line x1="283.6" y1="101.6" x2="283.6" y2="92" stroke="#111" stroke-width="1.45" stroke-linecap="round"/>
<line x1="285.8" y1="101.6" x2="285.8" y2="92" stroke="#111" stroke-width="1.45" stroke-linecap="round"/>
<line x1="297.6" y1="125.9" x2="305.2" y2="130.6" stroke="#111" stroke-width="1.45" stroke-linecap="round"/>
<line x1="298.6" y1="124.1" x2="306.2" y2="128.8" stroke="#111" stroke-width="1.45" stroke-linecap="round"/>
<line x1="284.8" y1="138.4" x2="284.8" y2="162.5" stroke="#111" stroke-width="1.45" stroke-linecap="round"/>
<text x="284.6" y="90" font-size="8.6" fill="#111" text-anchor="middle">O</text>
<text x="301.8" y="110.9" font-size="8.6" fill="#111" text-anchor="middle">NH</text>
<text x="309.2" y="136.3" font-size="8.6" fill="#111" text-anchor="middle">O</text>
<text x="284.4" y="135.8" font-size="8.6" fill="#111" text-anchor="middle">N</text>
<path d="M284.8,162.5 L273,158.2 L273,160 Z" fill="#111" stroke="#111" stroke-width="1"/>
<line x1="260.5" y1="159" x2="249" y2="162.5" stroke="#111" stroke-width="1.45" stroke-linecap="round"/>
<line x1="249" y1="162.5" x2="255" y2="170" stroke="#111" stroke-width="2.2" stroke-linecap="round"/>
<line x1="255" y1="170" x2="279" y2="170" stroke="#111" stroke-width="2.8" stroke-linecap="round"/>
<line x1="279" y1="170" x2="284.8" y2="162.5" stroke="#111" stroke-width="2.2" stroke-linecap="round"/>
<line x1="249" y1="162.5" x2="249" y2="148" stroke="#111" stroke-width="1.45" stroke-linecap="round"/>
<line x1="249" y1="148" x2="240.5" y2="143" stroke="#111" stroke-width="1.45" stroke-linecap="round"/>
<line x1="255" y1="170" x2="255" y2="177" stroke="#111" stroke-width="1.45" stroke-linecap="round"/>
<line x1="279" y1="170" x2="279" y2="177" stroke="#111" stroke-width="1.45" stroke-linecap="round"/>
<text x="266.4" y="161.6" font-size="8.6" fill="#111" text-anchor="middle">O</text>
<text x="233" y="145" font-size="8.6" fill="#111" text-anchor="middle">HO</text>
<text x="258.5" y="184" font-size="8.6" fill="#111" text-anchor="middle">OH</text>
<text x="281.5" y="184" font-size="8.6" fill="#111" text-anchor="middle">OH</text>
<circle cx="663" cy="119.9" r="35.8" fill="#f5c08a"/>
<circle cx="646.7" cy="112.3" r="8.7" fill="#c0844b"/>
<circle cx="661.8" cy="136.3" r="7" fill="#c88d53"/>
<line x1="653" y1="109.9" x2="662.1" y2="105.7" stroke="#111" stroke-width="1.45" stroke-linecap="round"/>
<line x1="662.1" y1="105.7" x2="671.7" y2="109.9" stroke="#111" stroke-width="1.45" stroke-linecap="round"/>
<line x1="661.1" y1="105.7" x2="661.1" y2="95.4" stroke="#111" stroke-width="1.45" stroke-linecap="round"/>
<line x1="663.2" y1="105.7" x2="663.2" y2="95.4" stroke="#111" stroke-width="1.45" stroke-linecap="round"/>
<line x1="675.9" y1="118.3" x2="675.9" y2="129.1" stroke="#111" stroke-width="1.45" stroke-linecap="round"/>
<line x1="675.9" y1="129.1" x2="667.5" y2="133.3" stroke="#111" stroke-width="1.45" stroke-linecap="round"/>
<line x1="675.9" y1="129.1" x2="683.1" y2="134.5" stroke="#111" stroke-width="1.45" stroke-linecap="round"/>
<line x1="677" y1="127.3" x2="684.2" y2="132.7" stroke="#111" stroke-width="1.45" stroke-linecap="round"/>
<line x1="656" y1="133.3" x2="648.3" y2="128.5" stroke="#111" stroke-width="1.45" stroke-linecap="round"/>
<line x1="657" y1="131.4" x2="649.3" y2="126.6" stroke="#111" stroke-width="1.45" stroke-linecap="round"/>
<line x1="648.3" y1="117.7" x2="648.3" y2="128.5" stroke="#111" stroke-width="1.45" stroke-linecap="round"/>
<line x1="661.8" y1="141.7" x2="661.8" y2="165.5" stroke="#111" stroke-width="1.45" stroke-linecap="round"/>
<text x="662.1" y="93" font-size="8.6" fill="#111" text-anchor="middle">O</text>
<text x="679" y="115.3" font-size="8.6" fill="#111" text-anchor="middle">NH</text>
<text x="686.2" y="139.3" font-size="8.6" fill="#111" text-anchor="middle">O</text>
<text x="646.7" y="114.8" font-size="8.6" fill="#111" text-anchor="middle">HN</text>
<text x="661.8" y="139" font-size="8.6" fill="#111" text-anchor="middle">C</text>
<path d="M661.8,165.5 L650.5,161.2 L650.5,163 Z" fill="#111" stroke="#111" stroke-width="1"/>
<line x1="637.5" y1="161.5" x2="626.5" y2="165" stroke="#111" stroke-width="1.45" stroke-linecap="round"/>
<line x1="626.5" y1="165" x2="632.5" y2="173.5" stroke="#111" stroke-width="2.2" stroke-linecap="round"/>
<line x1="632.5" y1="173.5" x2="655.5" y2="173.5" stroke="#111" stroke-width="2.8" stroke-linecap="round"/>
<line x1="655.5" y1="173.5" x2="661.8" y2="165.5" stroke="#111" stroke-width="2.2" stroke-linecap="round"/>
<line x1="626.5" y1="165" x2="626.5" y2="152.5" stroke="#111" stroke-width="1.45" stroke-linecap="round"/>
<line x1="626.5" y1="152.5" x2="618" y2="146.5" stroke="#111" stroke-width="1.45" stroke-linecap="round"/>
<line x1="632.5" y1="173.5" x2="632.5" y2="180.5" stroke="#111" stroke-width="1.45" stroke-linecap="round"/>
<line x1="655.5" y1="173.5" x2="655.5" y2="180.5" stroke="#111" stroke-width="1.45" stroke-linecap="round"/>
<text x="643.7" y="164.5" font-size="8.6" fill="#111" text-anchor="middle">O</text>
<text x="610" y="148" font-size="8.6" fill="#111" text-anchor="middle">HO</text>
<text x="635.5" y="187.5" font-size="8.6" fill="#111" text-anchor="middle">OH</text>
<text x="658.5" y="187.5" font-size="8.6" fill="#111" text-anchor="middle">OH</text>
<text transform="translate(234.75,212.4) scale(0.6600,1)" x="0" y="0" font-size="23" font-weight="700" fill="#1a1a1a" stroke="#1a1a1a" stroke-width="0.4" textLength="123.86" lengthAdjust="spacing">Uridine (U)</text>
<text transform="translate(586.4,216.4) scale(0.6600,1)" x="0" y="0" font-size="23.4" font-weight="700" fill="#1a1a1a" stroke="#1a1a1a" stroke-width="0.4" textLength="165.45" lengthAdjust="spacing">Pseudouridine</text>
<path d="M706.2,198.2 C700.6,204 700.6,211.8 706.2,217.6" fill="none" stroke="#1a1a1a" stroke-width="2.3" stroke-linecap="round"/>
<path d="M722.8,198.2 C728.4,204 728.4,211.8 722.8,217.6" fill="none" stroke="#1a1a1a" stroke-width="2.3" stroke-linecap="round"/>
<path d="M714.6,202 L714.6,220.5 M709,204.8 C709,211.5 710.5,214 714.6,214 C718.7,214 720.4,211.5 720.4,204.8" fill="none" stroke="#1a1a1a" stroke-width="1.5"/>
<path d="M366.05,416 L365.97,421.98 L365.73,427.33 L365.32,432.44 L364.75,437.41 L364.02,442.25 L363.14,446.99 L362.09,451.63 L360.88,456.19 L359.51,460.65 L357.99,465.03 L356.32,469.32 L354.49,473.52 L352.51,477.63 L350.38,481.65 L348.1,485.58 L345.67,489.41 L343.1,493.14 L340.39,496.76 L337.54,500.29 L334.56,503.7 L331.44,507.01 L328.19,510.21 L324.81,513.29 L321.3,516.25 L317.67,519.09 L313.92,521.82 L310.06,524.41 L306.08,526.88 L301.98,529.23 L297.78,531.44 L293.48,533.51 L289.07,535.46 L284.56,537.26 L279.95,538.93 L275.24,540.46 L270.44,541.84 L265.54,543.09 L260.55,544.19 L255.45,545.14 L250.25,545.95 L244.94,546.62 L239.49,547.13 L233.88,547.5 L228.01,547.73 L221.45,547.8 L214.89,547.73 L209.02,547.5 L203.41,547.13 L197.96,546.62 L192.65,545.95 L187.45,545.14 L182.35,544.19 L177.36,543.09 L172.46,541.84 L167.66,540.46 L162.95,538.93 L158.34,537.26 L153.83,535.46 L149.42,533.51 L145.12,531.44 L140.92,529.23 L136.82,526.88 L132.84,524.41 L128.98,521.82 L125.23,519.09 L121.6,516.25 L118.09,513.29 L114.71,510.21 L111.46,507.01 L108.34,503.7 L105.36,500.29 L102.51,496.76 L99.8,493.14 L97.23,489.41 L94.8,485.58 L92.52,481.65 L90.39,477.63 L88.41,473.52 L86.58,469.32 L84.91,465.03 L83.39,460.65 L82.02,456.19 L80.81,451.63 L79.76,446.99 L78.88,442.25 L78.15,437.41 L77.58,432.44 L77.17,427.33 L76.93,421.98 L76.85,416 L76.93,410.02 L77.17,404.67 L77.58,399.56 L78.15,394.59 L78.88,389.75 L79.76,385.01 L80.81,380.37 L82.02,375.81 L83.39,371.35 L84.91,366.97 L86.58,362.68 L88.41,358.48 L90.39,354.37 L92.52,350.35 L94.8,346.42 L97.23,342.59 L99.8,338.86 L102.51,335.24 L105.36,331.71 L108.34,328.3 L111.46,324.99 L114.71,321.79 L118.09,318.71 L121.6,315.75 L125.23,312.91 L128.98,310.18 L132.84,307.59 L136.82,305.12 L140.92,302.77 L145.12,300.56 L149.42,298.49 L153.83,296.54 L158.34,294.74 L162.95,293.07 L167.66,291.54 L172.46,290.16 L177.36,288.91 L182.35,287.81 L187.45,286.86 L192.65,286.05 L197.96,285.38 L203.41,284.87 L209.02,284.5 L214.89,284.27 L221.45,284.2 L228.01,284.27 L233.88,284.5 L239.49,284.87 L244.94,285.38 L250.25,286.05 L255.45,286.86 L260.55,287.81 L265.54,288.91 L270.44,290.16 L275.24,291.54 L279.95,293.07 L284.56,294.74 L289.07,296.54 L293.48,298.49 L297.78,300.56 L301.98,302.77 L306.08,305.12 L310.06,307.59 L313.92,310.18 L317.67,312.91 L321.3,315.75 L324.81,318.71 L328.19,321.79 L331.44,324.99 L334.56,328.3 L337.54,331.71 L340.39,335.24 L343.1,338.86 L345.67,342.59 L348.1,346.42 L350.38,350.35 L352.51,354.37 L354.49,358.48 L356.32,362.68 L357.99,366.97 L359.51,371.35 L360.88,375.81 L362.09,380.37 L363.14,385.01 L364.02,389.75 L364.75,394.59 L365.32,399.56 L365.73,404.67 L365.97,410.02Z" fill="#eef5fb"/>
<path d="M364.85,416 L364.77,421.93 L364.53,427.22 L364.13,432.29 L363.56,437.21 L362.84,442.01 L361.96,446.71 L360.92,451.31 L359.72,455.82 L358.37,460.25 L356.86,464.58 L355.2,468.84 L353.38,473 L351.42,477.07 L349.31,481.05 L347.05,484.94 L344.64,488.74 L342.09,492.43 L339.41,496.03 L336.58,499.52 L333.62,502.91 L330.52,506.18 L327.3,509.35 L323.95,512.4 L320.47,515.34 L316.87,518.16 L313.16,520.85 L309.32,523.43 L305.37,525.87 L301.32,528.19 L297.15,530.38 L292.88,532.44 L288.51,534.37 L284.03,536.16 L279.46,537.81 L274.8,539.32 L270.03,540.7 L265.18,541.93 L260.22,543.02 L255.17,543.97 L250.01,544.77 L244.74,545.43 L239.34,545.94 L233.77,546.31 L227.96,546.53 L221.45,546.6 L214.94,546.53 L209.13,546.31 L203.56,545.94 L198.16,545.43 L192.89,544.77 L187.73,543.97 L182.68,543.02 L177.72,541.93 L172.87,540.7 L168.1,539.32 L163.44,537.81 L158.87,536.16 L154.39,534.37 L150.02,532.44 L145.75,530.38 L141.58,528.19 L137.53,525.87 L133.58,523.43 L129.74,520.85 L126.03,518.16 L122.43,515.34 L118.95,512.4 L115.6,509.35 L112.38,506.18 L109.28,502.91 L106.32,499.52 L103.49,496.03 L100.81,492.43 L98.26,488.74 L95.85,484.94 L93.59,481.05 L91.48,477.07 L89.52,473 L87.7,468.84 L86.04,464.58 L84.53,460.25 L83.18,455.82 L81.98,451.31 L80.94,446.71 L80.06,442.01 L79.34,437.21 L78.77,432.29 L78.37,427.22 L78.13,421.93 L78.05,416 L78.13,410.07 L78.37,404.78 L78.77,399.71 L79.34,394.79 L80.06,389.99 L80.94,385.29 L81.98,380.69 L83.18,376.18 L84.53,371.75 L86.04,367.42 L87.7,363.16 L89.52,359 L91.48,354.93 L93.59,350.95 L95.85,347.06 L98.26,343.26 L100.81,339.57 L103.49,335.97 L106.32,332.48 L109.28,329.09 L112.38,325.82 L115.6,322.65 L118.95,319.6 L122.43,316.66 L126.03,313.84 L129.74,311.15 L133.58,308.57 L137.53,306.13 L141.58,303.81 L145.75,301.62 L150.02,299.56 L154.39,297.63 L158.87,295.84 L163.44,294.19 L168.1,292.68 L172.87,291.3 L177.72,290.07 L182.68,288.98 L187.73,288.03 L192.89,287.23 L198.16,286.57 L203.56,286.06 L209.13,285.69 L214.94,285.47 L221.45,285.4 L227.96,285.47 L233.77,285.69 L239.34,286.06 L244.74,286.57 L250.01,287.23 L255.17,288.03 L260.22,288.98 L265.18,290.07 L270.03,291.3 L274.8,292.68 L279.46,294.19 L284.03,295.84 L288.51,297.63 L292.88,299.56 L297.15,301.62 L301.32,303.81 L305.37,306.13 L309.32,308.57 L313.16,311.15 L316.87,313.84 L320.47,316.66 L323.95,319.6 L327.3,322.65 L330.52,325.82 L333.62,329.09 L336.58,332.48 L339.41,335.97 L342.09,339.57 L344.64,343.26 L347.05,347.06 L349.31,350.95 L351.42,354.93 L353.38,359 L355.2,363.16 L356.86,367.42 L358.37,371.75 L359.72,376.18 L360.92,380.69 L361.96,385.29 L362.84,389.99 L363.56,394.79 L364.13,399.71 L364.53,404.78 L364.77,410.07Z" fill="#d2e3f4"/>
<path d="M363.25,416 L363.17,421.86 L362.93,427.09 L362.53,432.09 L361.98,436.95 L361.26,441.69 L360.39,446.33 L359.36,450.88 L358.18,455.33 L356.84,459.7 L355.35,463.99 L353.71,468.19 L351.91,472.3 L349.97,476.32 L347.88,480.26 L345.64,484.1 L343.27,487.85 L340.75,491.5 L338.09,495.05 L335.3,498.5 L332.37,501.84 L329.31,505.08 L326.12,508.21 L322.8,511.22 L319.37,514.12 L315.81,516.9 L312.13,519.57 L308.34,522.11 L304.44,524.53 L300.43,526.82 L296.31,528.98 L292.08,531.02 L287.76,532.92 L283.34,534.69 L278.82,536.32 L274.2,537.81 L269.49,539.17 L264.69,540.39 L259.79,541.46 L254.79,542.4 L249.69,543.19 L244.48,543.84 L239.14,544.35 L233.64,544.71 L227.89,544.93 L221.45,545 L215.01,544.93 L209.26,544.71 L203.76,544.35 L198.42,543.84 L193.21,543.19 L188.11,542.4 L183.11,541.46 L178.21,540.39 L173.41,539.17 L168.7,537.81 L164.08,536.32 L159.56,534.69 L155.14,532.92 L150.82,531.02 L146.59,528.98 L142.47,526.82 L138.46,524.53 L134.56,522.11 L130.77,519.57 L127.09,516.9 L123.53,514.12 L120.1,511.22 L116.78,508.21 L113.59,505.08 L110.53,501.84 L107.6,498.5 L104.81,495.05 L102.15,491.5 L99.63,487.85 L97.26,484.1 L95.02,480.26 L92.93,476.32 L90.99,472.3 L89.19,468.19 L87.55,463.99 L86.06,459.7 L84.72,455.33 L83.54,450.88 L82.51,446.33 L81.64,441.69 L80.92,436.95 L80.37,432.09 L79.97,427.09 L79.73,421.86 L79.65,416 L79.73,410.14 L79.97,404.91 L80.37,399.91 L80.92,395.05 L81.64,390.31 L82.51,385.67 L83.54,381.12 L84.72,376.67 L86.06,372.3 L87.55,368.01 L89.19,363.81 L90.99,359.7 L92.93,355.68 L95.02,351.74 L97.26,347.9 L99.63,344.15 L102.15,340.5 L104.81,336.95 L107.6,333.5 L110.53,330.16 L113.59,326.92 L116.78,323.79 L120.1,320.78 L123.53,317.88 L127.09,315.1 L130.77,312.43 L134.56,309.89 L138.46,307.47 L142.47,305.18 L146.59,303.02 L150.82,300.98 L155.14,299.08 L159.56,297.31 L164.08,295.68 L168.7,294.19 L173.41,292.83 L178.21,291.61 L183.11,290.54 L188.11,289.6 L193.21,288.81 L198.42,288.16 L203.76,287.65 L209.26,287.29 L215.01,287.07 L221.45,287 L227.89,287.07 L233.64,287.29 L239.14,287.65 L244.48,288.16 L249.69,288.81 L254.79,289.6 L259.79,290.54 L264.69,291.61 L269.49,292.83 L274.2,294.19 L278.82,295.68 L283.34,297.31 L287.76,299.08 L292.08,300.98 L296.31,303.02 L300.43,305.18 L304.44,307.47 L308.34,309.89 L312.13,312.43 L315.81,315.1 L319.37,317.88 L322.8,320.78 L326.12,323.79 L329.31,326.92 L332.37,330.16 L335.3,333.5 L338.09,336.95 L340.75,340.5 L343.27,344.15 L345.64,347.9 L347.88,351.74 L349.97,355.68 L351.91,359.7 L353.71,363.81 L355.35,368.01 L356.84,372.3 L358.18,376.67 L359.36,381.12 L360.39,385.67 L361.26,390.31 L361.98,395.05 L362.53,399.91 L362.93,404.91 L363.17,410.14Z" fill="#eaf3fb"/>
<path d="M362.15,416 L362.07,421.81 L361.83,426.99 L361.44,431.96 L360.89,436.77 L360.18,441.47 L359.31,446.07 L358.29,450.58 L357.12,455 L355.79,459.33 L354.31,463.58 L352.68,467.74 L350.9,471.82 L348.97,475.81 L346.9,479.71 L344.68,483.52 L342.32,487.23 L339.82,490.85 L337.18,494.37 L334.41,497.79 L331.51,501.11 L328.47,504.32 L325.31,507.42 L322.02,510.41 L318.61,513.28 L315.08,516.04 L311.43,518.69 L307.67,521.21 L303.79,523.6 L299.81,525.87 L295.73,528.02 L291.54,530.04 L287.25,531.92 L282.86,533.67 L278.37,535.29 L273.79,536.77 L269.12,538.12 L264.35,539.33 L259.49,540.39 L254.53,541.32 L249.47,542.11 L244.3,542.75 L239,543.25 L233.54,543.61 L227.84,543.83 L221.45,543.9 L215.06,543.83 L209.36,543.61 L203.9,543.25 L198.6,542.75 L193.43,542.11 L188.37,541.32 L183.41,540.39 L178.55,539.33 L173.78,538.12 L169.11,536.77 L164.53,535.29 L160.04,533.67 L155.65,531.92 L151.36,530.04 L147.17,528.02 L143.09,525.87 L139.11,523.6 L135.23,521.21 L131.47,518.69 L127.82,516.04 L124.29,513.28 L120.88,510.41 L117.59,507.42 L114.43,504.32 L111.39,501.11 L108.49,497.79 L105.72,494.37 L103.08,490.85 L100.58,487.23 L98.22,483.52 L96,479.71 L93.93,475.81 L92,471.82 L90.22,467.74 L88.59,463.58 L87.11,459.33 L85.78,455 L84.61,450.58 L83.59,446.07 L82.72,441.47 L82.01,436.77 L81.46,431.96 L81.07,426.99 L80.83,421.81 L80.75,416 L80.83,410.19 L81.07,405.01 L81.46,400.04 L82.01,395.23 L82.72,390.53 L83.59,385.93 L84.61,381.42 L85.78,377 L87.11,372.67 L88.59,368.42 L90.22,364.26 L92,360.18 L93.93,356.19 L96,352.29 L98.22,348.48 L100.58,344.77 L103.08,341.15 L105.72,337.63 L108.49,334.21 L111.39,330.89 L114.43,327.68 L117.59,324.58 L120.88,321.59 L124.29,318.72 L127.82,315.96 L131.47,313.31 L135.23,310.79 L139.11,308.4 L143.09,306.13 L147.17,303.98 L151.36,301.96 L155.65,300.08 L160.04,298.33 L164.53,296.71 L169.11,295.23 L173.78,293.88 L178.55,292.67 L183.41,291.61 L188.37,290.68 L193.43,289.89 L198.6,289.25 L203.9,288.75 L209.36,288.39 L215.06,288.17 L221.45,288.1 L227.84,288.17 L233.54,288.39 L239,288.75 L244.3,289.25 L249.47,289.89 L254.53,290.68 L259.49,291.61 L264.35,292.67 L269.12,293.88 L273.79,295.23 L278.37,296.71 L282.86,298.33 L287.25,300.08 L291.54,301.96 L295.73,303.98 L299.81,306.13 L303.79,308.4 L307.67,310.79 L311.43,313.31 L315.08,315.96 L318.61,318.72 L322.02,321.59 L325.31,324.58 L328.47,327.68 L331.51,330.89 L334.41,334.21 L337.18,337.63 L339.82,341.15 L342.32,344.77 L344.68,348.48 L346.9,352.29 L348.97,356.19 L350.9,360.18 L352.68,364.26 L354.31,368.42 L355.79,372.67 L357.12,377 L358.29,381.42 L359.31,385.93 L360.18,390.53 L360.89,395.23 L361.44,400.04 L361.83,405.01 L362.07,410.19Z" fill="#c3d8ef"/>
<path d="M361.05,416 L360.97,421.76 L360.74,426.9 L360.35,431.82 L359.8,436.6 L359.09,441.26 L358.24,445.82 L357.22,450.28 L356.06,454.66 L354.74,458.96 L353.27,463.17 L351.65,467.3 L349.89,471.34 L347.97,475.3 L345.92,479.16 L343.72,482.94 L341.38,486.62 L338.9,490.21 L336.28,493.7 L333.53,497.09 L330.65,500.38 L327.63,503.56 L324.5,506.63 L321.23,509.6 L317.85,512.45 L314.34,515.18 L310.73,517.8 L306.99,520.3 L303.15,522.68 L299.2,524.93 L295.15,527.06 L290.99,529.05 L286.73,530.92 L282.38,532.66 L277.93,534.27 L273.38,535.74 L268.75,537.07 L264.02,538.27 L259.19,539.32 L254.27,540.24 L249.25,541.02 L244.12,541.66 L238.87,542.16 L233.45,542.52 L227.79,542.73 L221.45,542.8 L215.11,542.73 L209.45,542.52 L204.03,542.16 L198.78,541.66 L193.65,541.02 L188.63,540.24 L183.71,539.32 L178.88,538.27 L174.15,537.07 L169.52,535.74 L164.97,534.27 L160.52,532.66 L156.17,530.92 L151.91,529.05 L147.75,527.06 L143.7,524.93 L139.75,522.68 L135.91,520.3 L132.17,517.8 L128.56,515.18 L125.05,512.45 L121.67,509.6 L118.4,506.63 L115.27,503.56 L112.25,500.38 L109.37,497.09 L106.62,493.7 L104,490.21 L101.52,486.62 L99.18,482.94 L96.98,479.16 L94.93,475.3 L93.01,471.34 L91.25,467.3 L89.63,463.17 L88.16,458.96 L86.84,454.66 L85.68,450.28 L84.66,445.82 L83.81,441.26 L83.1,436.6 L82.55,431.82 L82.16,426.9 L81.93,421.76 L81.85,416 L81.93,410.24 L82.16,405.1 L82.55,400.18 L83.1,395.4 L83.81,390.74 L84.66,386.18 L85.68,381.72 L86.84,377.34 L88.16,373.04 L89.63,368.83 L91.25,364.7 L93.01,360.66 L94.93,356.7 L96.98,352.84 L99.18,349.06 L101.52,345.38 L104,341.79 L106.62,338.3 L109.37,334.91 L112.25,331.62 L115.27,328.44 L118.4,325.37 L121.67,322.4 L125.05,319.55 L128.56,316.82 L132.17,314.2 L135.91,311.7 L139.75,309.32 L143.7,307.07 L147.75,304.94 L151.91,302.95 L156.17,301.08 L160.52,299.34 L164.97,297.73 L169.52,296.26 L174.15,294.93 L178.88,293.73 L183.71,292.68 L188.63,291.76 L193.65,290.98 L198.78,290.34 L204.03,289.84 L209.45,289.48 L215.11,289.27 L221.45,289.2 L227.79,289.27 L233.45,289.48 L238.87,289.84 L244.12,290.34 L249.25,290.98 L254.27,291.76 L259.19,292.68 L264.02,293.73 L268.75,294.93 L273.38,296.26 L277.93,297.73 L282.38,299.34 L286.73,301.08 L290.99,302.95 L295.15,304.94 L299.2,307.07 L303.15,309.32 L306.99,311.7 L310.73,314.2 L314.34,316.82 L317.85,319.55 L321.23,322.4 L324.5,325.37 L327.63,328.44 L330.65,331.62 L333.53,334.91 L336.28,338.3 L338.9,341.79 L341.38,345.38 L343.72,349.06 L345.92,352.84 L347.97,356.7 L349.89,360.66 L351.65,364.7 L353.27,368.83 L354.74,373.04 L356.06,377.34 L357.22,381.72 L358.24,386.18 L359.09,390.74 L359.8,395.4 L360.35,400.18 L360.74,405.1 L360.97,410.24Z" fill="#6b8fcc"/>
<path d="M296,479.5 L295.96,481.76 L295.83,483.75 L295.62,485.64 L295.33,487.46 L294.95,489.23 L294.49,490.96 L293.94,492.66 L293.32,494.31 L292.61,495.94 L291.82,497.52 L290.95,499.08 L290,500.6 L288.97,502.09 L287.87,503.54 L286.68,504.95 L285.42,506.34 L284.09,507.68 L282.68,508.99 L281.2,510.26 L279.65,511.48 L278.02,512.67 L276.33,513.82 L274.57,514.93 L272.75,515.99 L270.85,517.01 L268.9,517.99 L266.88,518.92 L264.8,519.81 L262.67,520.65 L260.47,521.44 L258.22,522.19 L255.91,522.88 L253.55,523.53 L251.13,524.13 L248.66,524.67 L246.13,525.17 L243.55,525.61 L240.92,526.01 L238.23,526.35 L235.47,526.64 L232.65,526.88 L229.75,527.06 L226.75,527.19 L223.6,527.27 L220,527.3 L216.4,527.27 L213.25,527.19 L210.25,527.06 L207.35,526.88 L204.53,526.64 L201.77,526.35 L199.08,526.01 L196.45,525.61 L193.87,525.17 L191.34,524.67 L188.87,524.13 L186.45,523.53 L184.09,522.88 L181.78,522.19 L179.53,521.44 L177.33,520.65 L175.2,519.81 L173.12,518.92 L171.1,517.99 L169.15,517.01 L167.25,515.99 L165.43,514.93 L163.67,513.82 L161.98,512.67 L160.35,511.48 L158.8,510.26 L157.32,508.99 L155.91,507.68 L154.58,506.34 L153.32,504.95 L152.13,503.54 L151.03,502.09 L150,500.6 L149.05,499.08 L148.18,497.52 L147.39,495.94 L146.68,494.31 L146.06,492.66 L145.51,490.96 L145.05,489.23 L144.67,487.46 L144.38,485.64 L144.17,483.75 L144.04,481.76 L144,479.5 L144.04,477.24 L144.17,475.25 L144.38,473.36 L144.67,471.54 L145.05,469.77 L145.51,468.04 L146.06,466.34 L146.68,464.69 L147.39,463.06 L148.18,461.48 L149.05,459.92 L150,458.4 L151.03,456.91 L152.13,455.46 L153.32,454.05 L154.58,452.66 L155.91,451.32 L157.32,450.01 L158.8,448.74 L160.35,447.52 L161.98,446.33 L163.67,445.18 L165.43,444.07 L167.25,443.01 L169.15,441.99 L171.1,441.01 L173.12,440.08 L175.2,439.19 L177.33,438.35 L179.53,437.56 L181.78,436.81 L184.09,436.12 L186.45,435.47 L188.87,434.87 L191.34,434.33 L193.87,433.83 L196.45,433.39 L199.08,432.99 L201.77,432.65 L204.53,432.36 L207.35,432.12 L210.25,431.94 L213.25,431.81 L216.4,431.73 L220,431.7 L223.6,431.73 L226.75,431.81 L229.75,431.94 L232.65,432.12 L235.47,432.36 L238.23,432.65 L240.92,432.99 L243.55,433.39 L246.13,433.83 L248.66,434.33 L251.13,434.87 L253.55,435.47 L255.91,436.12 L258.22,436.81 L260.47,437.56 L262.67,438.35 L264.8,439.19 L266.88,440.08 L268.9,441.01 L270.85,441.99 L272.75,443.01 L274.57,444.07 L276.33,445.18 L278.02,446.33 L279.65,447.52 L281.2,448.74 L282.68,450.01 L284.09,451.32 L285.42,452.66 L286.68,454.05 L287.87,455.46 L288.97,456.91 L290,458.4 L290.95,459.92 L291.82,461.48 L292.61,463.06 L293.32,464.69 L293.94,466.34 L294.49,468.04 L294.95,469.77 L295.33,471.54 L295.62,473.36 L295.83,475.25 L295.96,477.24Z" fill="#4f6ea7"/>
<path d="M758.25,416 L758.17,421.99 L757.93,427.34 L757.52,432.47 L756.95,437.44 L756.22,442.29 L755.34,447.04 L754.29,451.69 L753.08,456.25 L751.71,460.72 L750.19,465.11 L748.52,469.4 L746.69,473.61 L744.71,477.73 L742.58,481.75 L740.3,485.68 L737.87,489.52 L735.3,493.25 L732.59,496.89 L729.74,500.41 L726.76,503.84 L723.64,507.15 L720.39,510.35 L717.01,513.44 L713.5,516.4 L709.87,519.25 L706.12,521.98 L702.26,524.58 L698.28,527.05 L694.18,529.4 L689.98,531.61 L685.68,533.69 L681.27,535.64 L676.76,537.45 L672.15,539.12 L667.44,540.65 L662.64,542.03 L657.74,543.28 L652.75,544.38 L647.65,545.34 L642.45,546.15 L637.14,546.82 L631.69,547.33 L626.08,547.7 L620.21,547.93 L613.65,548 L607.09,547.93 L601.22,547.7 L595.61,547.33 L590.16,546.82 L584.85,546.15 L579.65,545.34 L574.55,544.38 L569.56,543.28 L564.66,542.03 L559.86,540.65 L555.15,539.12 L550.54,537.45 L546.03,535.64 L541.62,533.69 L537.32,531.61 L533.12,529.4 L529.02,527.05 L525.04,524.58 L521.18,521.98 L517.43,519.25 L513.8,516.4 L510.29,513.44 L506.91,510.35 L503.66,507.15 L500.54,503.84 L497.56,500.41 L494.71,496.89 L492,493.25 L489.43,489.52 L487,485.68 L484.72,481.75 L482.59,477.73 L480.61,473.61 L478.78,469.4 L477.11,465.11 L475.59,460.72 L474.22,456.25 L473.01,451.69 L471.96,447.04 L471.08,442.29 L470.35,437.44 L469.78,432.47 L469.37,427.34 L469.13,421.99 L469.05,416 L469.13,410.01 L469.37,404.66 L469.78,399.53 L470.35,394.56 L471.08,389.71 L471.96,384.96 L473.01,380.31 L474.22,375.75 L475.59,371.28 L477.11,366.89 L478.78,362.6 L480.61,358.39 L482.59,354.27 L484.72,350.25 L487,346.32 L489.43,342.48 L492,338.75 L494.71,335.11 L497.56,331.59 L500.54,328.16 L503.66,324.85 L506.91,321.65 L510.29,318.56 L513.8,315.6 L517.43,312.75 L521.18,310.02 L525.04,307.42 L529.02,304.95 L533.12,302.6 L537.32,300.39 L541.62,298.31 L546.03,296.36 L550.54,294.55 L555.15,292.88 L559.86,291.35 L564.66,289.97 L569.56,288.72 L574.55,287.62 L579.65,286.66 L584.85,285.85 L590.16,285.18 L595.61,284.67 L601.22,284.3 L607.09,284.07 L613.65,284 L620.21,284.07 L626.08,284.3 L631.69,284.67 L637.14,285.18 L642.45,285.85 L647.65,286.66 L652.75,287.62 L657.74,288.72 L662.64,289.97 L667.44,291.35 L672.15,292.88 L676.76,294.55 L681.27,296.36 L685.68,298.31 L689.98,300.39 L694.18,302.6 L698.28,304.95 L702.26,307.42 L706.12,310.02 L709.87,312.75 L713.5,315.6 L717.01,318.56 L720.39,321.65 L723.64,324.85 L726.76,328.16 L729.74,331.59 L732.59,335.11 L735.3,338.75 L737.87,342.48 L740.3,346.32 L742.58,350.25 L744.71,354.27 L746.69,358.39 L748.52,362.6 L750.19,366.89 L751.71,371.28 L753.08,375.75 L754.29,380.31 L755.34,384.96 L756.22,389.71 L756.95,394.56 L757.52,399.53 L757.93,404.66 L758.17,410.01Z" fill="#eef5fb"/>
<path d="M757.05,416 L756.97,421.94 L756.73,427.24 L756.33,432.32 L755.76,437.25 L755.04,442.05 L754.16,446.76 L753.12,451.36 L751.92,455.88 L750.57,460.31 L749.06,464.66 L747.4,468.92 L745.58,473.09 L743.62,477.17 L741.51,481.15 L739.25,485.05 L736.84,488.85 L734.29,492.55 L731.61,496.15 L728.78,499.65 L725.82,503.04 L722.72,506.32 L719.5,509.49 L716.15,512.55 L712.67,515.49 L709.07,518.31 L705.36,521.01 L701.52,523.59 L697.57,526.04 L693.52,528.37 L689.35,530.56 L685.08,532.62 L680.71,534.55 L676.23,536.34 L671.66,538 L667,539.51 L662.23,540.89 L657.38,542.12 L652.42,543.21 L647.37,544.16 L642.21,544.97 L636.94,545.63 L631.54,546.14 L625.97,546.51 L620.16,546.73 L613.65,546.8 L607.14,546.73 L601.33,546.51 L595.76,546.14 L590.36,545.63 L585.09,544.97 L579.93,544.16 L574.88,543.21 L569.92,542.12 L565.07,540.89 L560.3,539.51 L555.64,538 L551.07,536.34 L546.59,534.55 L542.22,532.62 L537.95,530.56 L533.78,528.37 L529.73,526.04 L525.78,523.59 L521.94,521.01 L518.23,518.31 L514.63,515.49 L511.15,512.55 L507.8,509.49 L504.58,506.32 L501.48,503.04 L498.52,499.65 L495.69,496.15 L493.01,492.55 L490.46,488.85 L488.05,485.05 L485.79,481.15 L483.68,477.17 L481.72,473.09 L479.9,468.92 L478.24,464.66 L476.73,460.31 L475.38,455.88 L474.18,451.36 L473.14,446.76 L472.26,442.05 L471.54,437.25 L470.97,432.32 L470.57,427.24 L470.33,421.94 L470.25,416 L470.33,410.06 L470.57,404.76 L470.97,399.68 L471.54,394.75 L472.26,389.95 L473.14,385.24 L474.18,380.64 L475.38,376.12 L476.73,371.69 L478.24,367.34 L479.9,363.08 L481.72,358.91 L483.68,354.83 L485.79,350.85 L488.05,346.95 L490.46,343.15 L493.01,339.45 L495.69,335.85 L498.52,332.35 L501.48,328.96 L504.58,325.68 L507.8,322.51 L511.15,319.45 L514.63,316.51 L518.23,313.69 L521.94,310.99 L525.78,308.41 L529.73,305.96 L533.78,303.63 L537.95,301.44 L542.22,299.38 L546.59,297.45 L551.07,295.66 L555.64,294 L560.3,292.49 L565.07,291.11 L569.92,289.88 L574.88,288.79 L579.93,287.84 L585.09,287.03 L590.36,286.37 L595.76,285.86 L601.33,285.49 L607.14,285.27 L613.65,285.2 L620.16,285.27 L625.97,285.49 L631.54,285.86 L636.94,286.37 L642.21,287.03 L647.37,287.84 L652.42,288.79 L657.38,289.88 L662.23,291.11 L667,292.49 L671.66,294 L676.23,295.66 L680.71,297.45 L685.08,299.38 L689.35,301.44 L693.52,303.63 L697.57,305.96 L701.52,308.41 L705.36,310.99 L709.07,313.69 L712.67,316.51 L716.15,319.45 L719.5,322.51 L722.72,325.68 L725.82,328.96 L728.78,332.35 L731.61,335.85 L734.29,339.45 L736.84,343.15 L739.25,346.95 L741.51,350.85 L743.62,354.83 L745.58,358.91 L747.4,363.08 L749.06,367.34 L750.57,371.69 L751.92,376.12 L753.12,380.64 L754.16,385.24 L755.04,389.95 L755.76,394.75 L756.33,399.68 L756.73,404.76 L756.97,410.06Z" fill="#d2e3f4"/>
<path d="M755.45,416 L755.37,421.86 L755.13,427.1 L754.73,432.12 L754.18,436.99 L753.46,441.73 L752.59,446.38 L751.56,450.93 L750.38,455.4 L749.04,459.77 L747.55,464.06 L745.91,468.27 L744.11,472.39 L742.17,476.42 L740.08,480.36 L737.84,484.2 L735.47,487.96 L732.95,491.61 L730.29,495.17 L727.5,498.62 L724.57,501.97 L721.51,505.22 L718.32,508.35 L715,511.37 L711.57,514.27 L708.01,517.06 L704.33,519.73 L700.54,522.27 L696.64,524.7 L692.63,526.99 L688.51,529.16 L684.28,531.19 L679.96,533.1 L675.54,534.87 L671.02,536.5 L666.4,538 L661.69,539.36 L656.89,540.58 L651.99,541.66 L646.99,542.6 L641.89,543.39 L636.68,544.04 L631.34,544.55 L625.84,544.91 L620.09,545.13 L613.65,545.2 L607.21,545.13 L601.46,544.91 L595.96,544.55 L590.62,544.04 L585.41,543.39 L580.31,542.6 L575.31,541.66 L570.41,540.58 L565.61,539.36 L560.9,538 L556.28,536.5 L551.76,534.87 L547.34,533.1 L543.02,531.19 L538.79,529.16 L534.67,526.99 L530.66,524.7 L526.76,522.27 L522.97,519.73 L519.29,517.06 L515.73,514.27 L512.3,511.37 L508.98,508.35 L505.79,505.22 L502.73,501.97 L499.8,498.62 L497.01,495.17 L494.35,491.61 L491.83,487.96 L489.46,484.2 L487.22,480.36 L485.13,476.42 L483.19,472.39 L481.39,468.27 L479.75,464.06 L478.26,459.77 L476.92,455.4 L475.74,450.93 L474.71,446.38 L473.84,441.73 L473.12,436.99 L472.57,432.12 L472.17,427.1 L471.93,421.86 L471.85,416 L471.93,410.14 L472.17,404.9 L472.57,399.88 L473.12,395.01 L473.84,390.27 L474.71,385.62 L475.74,381.07 L476.92,376.6 L478.26,372.23 L479.75,367.94 L481.39,363.73 L483.19,359.61 L485.13,355.58 L487.22,351.64 L489.46,347.8 L491.83,344.04 L494.35,340.39 L497.01,336.83 L499.8,333.38 L502.73,330.03 L505.79,326.78 L508.98,323.65 L512.3,320.63 L515.73,317.73 L519.29,314.94 L522.97,312.27 L526.76,309.73 L530.66,307.3 L534.67,305.01 L538.79,302.84 L543.02,300.81 L547.34,298.9 L551.76,297.13 L556.28,295.5 L560.9,294 L565.61,292.64 L570.41,291.42 L575.31,290.34 L580.31,289.4 L585.41,288.61 L590.62,287.96 L595.96,287.45 L601.46,287.09 L607.21,286.87 L613.65,286.8 L620.09,286.87 L625.84,287.09 L631.34,287.45 L636.68,287.96 L641.89,288.61 L646.99,289.4 L651.99,290.34 L656.89,291.42 L661.69,292.64 L666.4,294 L671.02,295.5 L675.54,297.13 L679.96,298.9 L684.28,300.81 L688.51,302.84 L692.63,305.01 L696.64,307.3 L700.54,309.73 L704.33,312.27 L708.01,314.94 L711.57,317.73 L715,320.63 L718.32,323.65 L721.51,326.78 L724.57,330.03 L727.5,333.38 L730.29,336.83 L732.95,340.39 L735.47,344.04 L737.84,347.8 L740.08,351.64 L742.17,355.58 L744.11,359.61 L745.91,363.73 L747.55,367.94 L749.04,372.23 L750.38,376.6 L751.56,381.07 L752.59,385.62 L753.46,390.27 L754.18,395.01 L754.73,399.88 L755.13,404.9 L755.37,410.14Z" fill="#eaf3fb"/>
<path d="M754.35,416 L754.27,421.81 L754.03,427.01 L753.64,431.98 L753.09,436.81 L752.38,441.51 L751.51,446.12 L750.49,450.63 L749.32,455.06 L747.99,459.4 L746.51,463.65 L744.88,467.82 L743.1,471.91 L741.17,475.9 L739.1,479.81 L736.88,483.62 L734.52,487.35 L732.02,490.97 L729.38,494.5 L726.61,497.92 L723.71,501.24 L720.67,504.46 L717.51,507.56 L714.22,510.56 L710.81,513.44 L707.28,516.2 L703.63,518.85 L699.87,521.37 L695.99,523.77 L692.01,526.05 L687.93,528.2 L683.74,530.21 L679.45,532.1 L675.06,533.86 L670.57,535.48 L665.99,536.96 L661.32,538.31 L656.55,539.52 L651.69,540.59 L646.73,541.52 L641.67,542.31 L636.5,542.95 L631.2,543.45 L625.74,543.81 L620.04,544.03 L613.65,544.1 L607.26,544.03 L601.56,543.81 L596.1,543.45 L590.8,542.95 L585.63,542.31 L580.57,541.52 L575.61,540.59 L570.75,539.52 L565.98,538.31 L561.31,536.96 L556.73,535.48 L552.24,533.86 L547.85,532.1 L543.56,530.21 L539.37,528.2 L535.29,526.05 L531.31,523.77 L527.43,521.37 L523.67,518.85 L520.02,516.2 L516.49,513.44 L513.08,510.56 L509.79,507.56 L506.63,504.46 L503.59,501.24 L500.69,497.92 L497.92,494.5 L495.28,490.97 L492.78,487.35 L490.42,483.62 L488.2,479.81 L486.13,475.9 L484.2,471.91 L482.42,467.82 L480.79,463.65 L479.31,459.4 L477.98,455.06 L476.81,450.63 L475.79,446.12 L474.92,441.51 L474.21,436.81 L473.66,431.98 L473.27,427.01 L473.03,421.81 L472.95,416 L473.03,410.19 L473.27,404.99 L473.66,400.02 L474.21,395.19 L474.92,390.49 L475.79,385.88 L476.81,381.37 L477.98,376.94 L479.31,372.6 L480.79,368.35 L482.42,364.18 L484.2,360.09 L486.13,356.1 L488.2,352.19 L490.42,348.38 L492.78,344.65 L495.28,341.03 L497.92,337.5 L500.69,334.08 L503.59,330.76 L506.63,327.54 L509.79,324.44 L513.08,321.44 L516.49,318.56 L520.02,315.8 L523.67,313.15 L527.43,310.63 L531.31,308.23 L535.29,305.95 L539.37,303.8 L543.56,301.79 L547.85,299.9 L552.24,298.14 L556.73,296.52 L561.31,295.04 L565.98,293.69 L570.75,292.48 L575.61,291.41 L580.57,290.48 L585.63,289.69 L590.8,289.05 L596.1,288.55 L601.56,288.19 L607.26,287.97 L613.65,287.9 L620.04,287.97 L625.74,288.19 L631.2,288.55 L636.5,289.05 L641.67,289.69 L646.73,290.48 L651.69,291.41 L656.55,292.48 L661.32,293.69 L665.99,295.04 L670.57,296.52 L675.06,298.14 L679.45,299.9 L683.74,301.79 L687.93,303.8 L692.01,305.95 L695.99,308.23 L699.87,310.63 L703.63,313.15 L707.28,315.8 L710.81,318.56 L714.22,321.44 L717.51,324.44 L720.67,327.54 L723.71,330.76 L726.61,334.08 L729.38,337.5 L732.02,341.03 L734.52,344.65 L736.88,348.38 L739.1,352.19 L741.17,356.1 L743.1,360.09 L744.88,364.18 L746.51,368.35 L747.99,372.6 L749.32,376.94 L750.49,381.37 L751.51,385.88 L752.38,390.49 L753.09,395.19 L753.64,400.02 L754.03,404.99 L754.27,410.19Z" fill="#c3d8ef"/>
<path d="M753.25,416 L753.17,421.76 L752.94,426.91 L752.55,431.84 L752,436.63 L751.29,441.3 L750.44,445.86 L749.42,450.34 L748.26,454.72 L746.94,459.03 L745.47,463.25 L743.85,467.38 L742.09,471.43 L740.17,475.39 L738.12,479.26 L735.92,483.04 L733.58,486.73 L731.1,490.33 L728.48,493.82 L725.73,497.22 L722.85,500.51 L719.83,503.7 L716.7,506.78 L713.43,509.74 L710.05,512.6 L706.54,515.34 L702.93,517.96 L699.19,520.47 L695.35,522.85 L691.4,525.1 L687.35,527.23 L683.19,529.23 L678.93,531.11 L674.58,532.85 L670.13,534.45 L665.58,535.92 L660.95,537.26 L656.22,538.46 L651.39,539.52 L646.47,540.44 L641.45,541.22 L636.32,541.86 L631.07,542.36 L625.65,542.71 L619.99,542.93 L613.65,543 L607.31,542.93 L601.65,542.71 L596.23,542.36 L590.98,541.86 L585.85,541.22 L580.83,540.44 L575.91,539.52 L571.08,538.46 L566.35,537.26 L561.72,535.92 L557.17,534.45 L552.72,532.85 L548.37,531.11 L544.11,529.23 L539.95,527.23 L535.9,525.1 L531.95,522.85 L528.11,520.47 L524.37,517.96 L520.76,515.34 L517.25,512.6 L513.87,509.74 L510.6,506.78 L507.47,503.7 L504.45,500.51 L501.57,497.22 L498.82,493.82 L496.2,490.33 L493.72,486.73 L491.38,483.04 L489.18,479.26 L487.13,475.39 L485.21,471.43 L483.45,467.38 L481.83,463.25 L480.36,459.03 L479.04,454.72 L477.88,450.34 L476.86,445.86 L476.01,441.3 L475.3,436.63 L474.75,431.84 L474.36,426.91 L474.13,421.76 L474.05,416 L474.13,410.24 L474.36,405.09 L474.75,400.16 L475.3,395.37 L476.01,390.7 L476.86,386.14 L477.88,381.66 L479.04,377.28 L480.36,372.97 L481.83,368.75 L483.45,364.62 L485.21,360.57 L487.13,356.61 L489.18,352.74 L491.38,348.96 L493.72,345.27 L496.2,341.67 L498.82,338.18 L501.57,334.78 L504.45,331.49 L507.47,328.3 L510.6,325.22 L513.87,322.26 L517.25,319.4 L520.76,316.66 L524.37,314.04 L528.11,311.53 L531.95,309.15 L535.9,306.9 L539.95,304.77 L544.11,302.77 L548.37,300.89 L552.72,299.15 L557.17,297.55 L561.72,296.08 L566.35,294.74 L571.08,293.54 L575.91,292.48 L580.83,291.56 L585.85,290.78 L590.98,290.14 L596.23,289.64 L601.65,289.29 L607.31,289.07 L613.65,289 L619.99,289.07 L625.65,289.29 L631.07,289.64 L636.32,290.14 L641.45,290.78 L646.47,291.56 L651.39,292.48 L656.22,293.54 L660.95,294.74 L665.58,296.08 L670.13,297.55 L674.58,299.15 L678.93,300.89 L683.19,302.77 L687.35,304.77 L691.4,306.9 L695.35,309.15 L699.19,311.53 L702.93,314.04 L706.54,316.66 L710.05,319.4 L713.43,322.26 L716.7,325.22 L719.83,328.3 L722.85,331.49 L725.73,334.78 L728.48,338.18 L731.1,341.67 L733.58,345.27 L735.92,348.96 L738.12,352.74 L740.17,356.61 L742.09,360.57 L743.85,364.62 L745.47,368.75 L746.94,372.97 L748.26,377.28 L749.42,381.66 L750.44,386.14 L751.29,390.7 L752,395.37 L752.55,400.16 L752.94,405.09 L753.17,410.24Z" fill="#6b8fcc"/>
<path d="M694,481.2 L693.96,483.46 L693.83,485.45 L693.62,487.34 L693.33,489.16 L692.95,490.93 L692.49,492.66 L691.94,494.36 L691.32,496.01 L690.61,497.64 L689.82,499.22 L688.95,500.78 L688,502.3 L686.97,503.79 L685.87,505.24 L684.68,506.65 L683.42,508.04 L682.09,509.38 L680.68,510.69 L679.2,511.96 L677.65,513.18 L676.02,514.37 L674.33,515.52 L672.57,516.63 L670.75,517.69 L668.85,518.71 L666.9,519.69 L664.88,520.62 L662.8,521.51 L660.67,522.35 L658.47,523.14 L656.22,523.89 L653.91,524.58 L651.55,525.23 L649.13,525.83 L646.66,526.37 L644.13,526.87 L641.55,527.31 L638.92,527.71 L636.23,528.05 L633.47,528.34 L630.65,528.58 L627.75,528.76 L624.75,528.89 L621.6,528.97 L618,529 L614.4,528.97 L611.25,528.89 L608.25,528.76 L605.35,528.58 L602.53,528.34 L599.77,528.05 L597.08,527.71 L594.45,527.31 L591.87,526.87 L589.34,526.37 L586.87,525.83 L584.45,525.23 L582.09,524.58 L579.78,523.89 L577.53,523.14 L575.33,522.35 L573.2,521.51 L571.12,520.62 L569.1,519.69 L567.15,518.71 L565.25,517.69 L563.43,516.63 L561.67,515.52 L559.98,514.37 L558.35,513.18 L556.8,511.96 L555.32,510.69 L553.91,509.38 L552.58,508.04 L551.32,506.65 L550.13,505.24 L549.03,503.79 L548,502.3 L547.05,500.78 L546.18,499.22 L545.39,497.64 L544.68,496.01 L544.06,494.36 L543.51,492.66 L543.05,490.93 L542.67,489.16 L542.38,487.34 L542.17,485.45 L542.04,483.46 L542,481.2 L542.04,478.94 L542.17,476.95 L542.38,475.06 L542.67,473.24 L543.05,471.47 L543.51,469.74 L544.06,468.04 L544.68,466.39 L545.39,464.76 L546.18,463.18 L547.05,461.62 L548,460.1 L549.03,458.61 L550.13,457.16 L551.32,455.75 L552.58,454.36 L553.91,453.02 L555.32,451.71 L556.8,450.44 L558.35,449.22 L559.98,448.03 L561.67,446.88 L563.43,445.77 L565.25,444.71 L567.15,443.69 L569.1,442.71 L571.12,441.78 L573.2,440.89 L575.33,440.05 L577.53,439.26 L579.78,438.51 L582.09,437.82 L584.45,437.17 L586.87,436.57 L589.34,436.03 L591.87,435.53 L594.45,435.09 L597.08,434.69 L599.77,434.35 L602.53,434.06 L605.35,433.82 L608.25,433.64 L611.25,433.51 L614.4,433.43 L618,433.4 L621.6,433.43 L624.75,433.51 L627.75,433.64 L630.65,433.82 L633.47,434.06 L636.23,434.35 L638.92,434.69 L641.55,435.09 L644.13,435.53 L646.66,436.03 L649.13,436.57 L651.55,437.17 L653.91,437.82 L656.22,438.51 L658.47,439.26 L660.67,440.05 L662.8,440.89 L664.88,441.78 L666.9,442.71 L668.85,443.69 L670.75,444.71 L672.57,445.77 L674.33,446.88 L676.02,448.03 L677.65,449.22 L679.2,450.44 L680.68,451.71 L682.09,453.02 L683.42,454.36 L684.68,455.75 L685.87,457.16 L686.97,458.61 L688,460.1 L688.95,461.62 L689.82,463.18 L690.61,464.76 L691.32,466.39 L691.94,468.04 L692.49,469.74 L692.95,471.47 L693.33,473.24 L693.62,475.06 L693.83,476.95 L693.96,478.94Z" fill="#4f6ea7"/>
<line x1="197.7" y1="265.4" x2="201.1" y2="297.5" stroke="#df9679" stroke-width="3.3"/>
<circle cx="197.7" cy="265.4" r="7" fill="#f9da86" stroke="#b59d5c" stroke-width="0.9"/>
<line x1="247" y1="266.3" x2="242.5" y2="297.5" stroke="#df9679" stroke-width="3.3"/>
<circle cx="247" cy="266.3" r="7" fill="#f9da86" stroke="#b59d5c" stroke-width="0.9"/>
<line x1="522.9" y1="292.6" x2="541.3" y2="317.78" stroke="#df9679" stroke-width="3.3"/>
<circle cx="522.9" cy="292.6" r="7" fill="#f9da86" stroke="#b59d5c" stroke-width="0.9"/>
<line x1="537" y1="284.2" x2="551.52" y2="311.95" stroke="#df9679" stroke-width="3.3"/>
<circle cx="537" cy="284.2" r="7" fill="#f9da86" stroke="#b59d5c" stroke-width="0.9"/>
<line x1="551.4" y1="278.2" x2="561.73" y2="307.58" stroke="#df9679" stroke-width="3.3"/>
<circle cx="551.4" cy="278.2" r="7" fill="#f9da86" stroke="#b59d5c" stroke-width="0.9"/>
<line x1="567.9" y1="273.7" x2="575.98" y2="303.12" stroke="#df9679" stroke-width="3.3"/>
<circle cx="567.9" cy="273.7" r="7" fill="#f9da86" stroke="#b59d5c" stroke-width="0.9"/>
<line x1="585" y1="269.8" x2="588.87" y2="301.08" stroke="#df9679" stroke-width="3.3"/>
<circle cx="585" cy="269.8" r="7" fill="#f9da86" stroke="#b59d5c" stroke-width="0.9"/>
<line x1="602.4" y1="267.1" x2="603.04" y2="298.7" stroke="#df9679" stroke-width="3.3"/>
<circle cx="602.4" cy="267.1" r="7" fill="#f9da86" stroke="#b59d5c" stroke-width="0.9"/>
<line x1="620.4" y1="266.2" x2="619.43" y2="298.7" stroke="#df9679" stroke-width="3.3"/>
<circle cx="620.4" cy="266.2" r="7" fill="#f9da86" stroke="#b59d5c" stroke-width="0.9"/>
<line x1="636.9" y1="266.2" x2="634.33" y2="298.69" stroke="#df9679" stroke-width="3.3"/>
<circle cx="636.9" cy="266.2" r="7" fill="#f9da86" stroke="#b59d5c" stroke-width="0.9"/>
<line x1="654.6" y1="268.3" x2="649.13" y2="300.17" stroke="#df9679" stroke-width="3.3"/>
<circle cx="654.6" cy="268.3" r="7" fill="#f9da86" stroke="#b59d5c" stroke-width="0.9"/>
<line x1="672" y1="273.1" x2="660.73" y2="303.06" stroke="#df9679" stroke-width="3.3"/>
<circle cx="672" cy="273.1" r="7" fill="#f9da86" stroke="#b59d5c" stroke-width="0.9"/>
<line x1="687.6" y1="280.3" x2="675.64" y2="308.42" stroke="#df9679" stroke-width="3.3"/>
<circle cx="687.6" cy="280.3" r="7" fill="#f9da86" stroke="#b59d5c" stroke-width="0.9"/>
<line x1="702.9" y1="288.7" x2="685.8" y2="314.84" stroke="#df9679" stroke-width="3.3"/>
<circle cx="702.9" cy="288.7" r="7" fill="#f9da86" stroke="#b59d5c" stroke-width="0.9"/>
<path d="M218.6,370.7 C224,358 228,335 221.5,316" fill="none" stroke="#15213d" stroke-width="1.4"/>
<path d="M219.2,307.6 L220.2,319 L226.6,314.4 Z" fill="#15213d"/>
<path d="M611.2,370.7 C617,358 622,343 618,326" fill="none" stroke="#111a30" stroke-width="2.4"/>
<path d="M611.2,307.6 L613.8,328.4 L624.3,323.6 Z" fill="#111a30"/>
<line x1="241.5" y1="339.5" x2="213.8" y2="353.9" stroke="#df9679" stroke-width="3.3"/>
<circle cx="241.5" cy="339.5" r="7" fill="#f9da86" stroke="#b59d5c" stroke-width="0.9"/>
<line x1="634" y1="339.5" x2="606.4" y2="353.9" stroke="#df9679" stroke-width="3.3"/>
<circle cx="634" cy="339.5" r="7" fill="#f9da86" stroke="#b59d5c" stroke-width="0.9"/>
<path d="M88.5,229.5 L88.5,288 C88.5,318 96,338 110,354" fill="none" stroke="#111" stroke-width="1.6"/>
<path d="M120.6,364 L106.6,357.4 L114.5,351.2 Z" fill="#111"/>
<path d="M484.75,229.5 L484.75,288 C484.75,318 492.25,338 506.25,354" fill="none" stroke="#111" stroke-width="1.6"/>
<path d="M516.85,364 L502.85,357.4 L510.75,351.2 Z" fill="#111"/>
<path d="M93.1,383.1 L93,383.93 L92.82,384.82 L92.65,385.7 L92.57,386.53 L92.68,387.21 L93.06,387.68 L93.78,387.86 L94.84,387.73 L96.18,387.32 L97.69,386.73 L99.2,386.11 L100.52,385.66 L101.51,385.58 L102.09,386 L102.29,386.99 L102.23,388.48 L102.12,390.28 L102.14,392.12 L102.47,393.67 L103.18,394.64 L104.23,394.86 L105.5,394.28 L106.79,393.06 L107.93,391.49 L108.88,389.97 L109.28,389.27 L109.7,388.8 L110.13,388.63 L110.61,388.78 L111.18,389.27 L111.85,390.05 L112.62,391.05 L113.48,392.14 L114.39,393.2 L115.3,394.05 L116.17,394.56 L116.95,394.61 L117.59,394.17 L118.09,393.25 L118.46,391.93 L118.75,390.38 L119.02,388.81 L119.35,387.44 L119.81,386.45 L120.45,385.99 L121.29,386.12 L122.31,386.76 L123.48,387.79 L124.69,388.98 L125.88,390.08 L126.94,390.85 L127.83,391.1 L128.51,390.74 L129.02,389.79 L129.39,388.39 L129.71,386.74 L130.06,385.11 L130.51,383.73 L131.1,382.83 L131.86,382.51 L132.75,382.79 L133.74,383.59 L134.76,384.75 L135.75,386.04 L136.66,387.24 L137.46,388.13 L138.16,388.58 L138.79,388.52 L139.39,387.96 L139.99,386.99 L140.6,385.73 L141.24,384.37 L141.91,383.07 L142.62,382.04 L143.34,381.4 L144.06,381.25 L144.78,381.61 L145.47,382.43 L146.13,383.59 L146.76,384.95 L147.37,386.31 L147.97,387.49 L148.58,388.33 L149.23,388.71 L149.91,388.58 L150.65,387.98 L151.43,386.99 L152.25,385.76 L153.1,384.48 L153.94,383.35 L154.75,382.53 L155.51,382.17 L156.21,382.33 L156.85,382.99 L157.43,384.09 L157.96,385.47 L158.49,386.94 L159.03,388.3 L159.61,389.35 L160.25,389.95 L160.97,390.02 L161.76,389.56 L162.61,388.64 L163.5,387.43 L164.4,386.11 L165.28,384.92 L166.11,384.04 L166.89,383.64 L167.6,383.8 L168.25,384.5 L168.85,385.66 L169.44,387.1 L169.97,388.5 L170.5,389.78 L171.05,390.77 L171.64,391.35 L172.31,391.42 L173.07,390.99 L173.91,390.13 L174.82,388.97 L175.76,387.71 L176.7,386.55 L177.6,385.7 L178.42,385.3 L179.15,385.45 L179.77,386.14 L180.3,387.29 L180.77,388.75 L181.22,390.3 L181.69,391.72 L182.24,392.8 L182.89,393.39 L183.64,393.41 L184.5,392.89 L185.44,391.92 L186.42,390.68 L187.39,389.4 L188.32,388.3 L189.17,387.57 L189.93,387.36 L190.59,387.69 L191.18,388.55 L191.73,389.81 L192.26,391.28 L192.82,392.74 L193.42,394 L194.09,394.86 L194.81,395.21 L195.58,395.02 L196.38,394.33 L197.17,393.24 L197.93,391.94 L198.65,390.61 L199.33,389.44 L199.96,388.61 L200.58,388.22 L201.2,388.31 L201.85,388.85 L202.56,389.77 L203.32,390.92 L204.21,392.21 L205.17,393.35 L206.13,394.16 L207.04,394.5 L207.82,394.33 L208.45,393.63 L208.89,392.51 L209.17,391.09 L209.35,389.55 L209.5,388.08 L209.7,386.86 L210.04,386.02 L210.6,385.65 L211.38,385.74 L212.4,386.24 L213.59,387.03 L214.87,387.93 L216.14,388.78 L217.3,389.37 L218.25,389.59 L218.94,389.34 L219.37,388.61 L219.56,387.46 L219.58,386.01 L219.54,384.43 L219.56,382.9 L219.72,381.61 L220.1,380.71 L220.74,380.29 L221.62,380.36 L222.7,380.88 L223.9,381.73 L225.11,382.73 L226.26,383.69 L227.26,384.43 L228.07,384.8 L228.7,384.69 L229.17,384.09 L229.55,383.03 L229.91,381.65 L230.31,380.13 L230.82,378.67 L231.47,377.5 L232.24,376.78 L233.08,376.65 L233.84,377.02 L234.57,377.79 L235.25,378.89 L235.88,380.17 L236.45,381.48 L236.98,382.66 L237.52,383.53 L238.08,383.99 L238.72,383.97 L239.45,383.48 L240.29,382.58 L241.22,381.43 L242.2,380.2 L243.2,379.11 L244.14,378.36 L245,378.08 L245.72,378.36 L246.3,379.19 L246.74,380.47 L247.1,382.02 L247.43,383.63 L247.8,385.05 L248.27,386.09 L248.9,386.59 L249.71,386.51 L250.68,385.9 L251.78,384.89 L252.94,383.7 L254.08,382.56 L255.13,381.71 L256.03,381.32 L256.76,381.5 L257.31,382.25 L257.73,383.47 L258.07,384.99 L258.4,386.59 L258.78,388.04 L259.28,389.14 L259.9,389.76 L260.67,389.82 L261.55,389.35 L262.51,388.47 L263.49,387.33 L264.44,386.12 L265.32,385.04 L266.1,384.26 L266.79,383.89 L267.39,383.98 L267.93,384.52 L268.45,385.43 L268.98,386.6 L269.56,387.87 L270.2,389.09 L271.03,390.32 L271.9,391.07 L272.76,391.2 L273.56,390.7 L274.28,389.65 L274.89,388.22 L275.43,386.65 L275.92,385.19 L276.42,384.04 L276.99,383.39 L277.68,383.29 L278.51,383.75 L279.47,384.64 L280.54,385.78 L281.64,386.97 L282.73,387.98 L283.72,388.6 L284.56,388.73 L285.22,388.3 L285.7,387.36 L286.04,386.03 L286.29,384.48 L286.52,382.93 L286.81,381.56 L287.22,380.56 L287.8,380.04 L288.56,380.03 L289.48,380.49 L290.52,381.33 L291.6,382.37 L292.68,383.44 L293.68,384.35 L294.55,384.96 L295.28,385.16 L295.87,384.89 L296.33,384.18 L296.71,383.11 L297.06,381.8 L297.44,380.4 L297.87,379.08 L298.39,377.98 L299.01,377.24 L299.69,376.92 L300.56,377.15 L301.46,377.97 L302.35,379.21 L303.21,380.65 L304.03,382.03 L304.79,383.1 L305.52,383.68 L306.23,383.69 L306.94,383.13 L307.66,382.09 L308.41,380.77 L309.19,379.36 L309.98,378.1 L310.77,377.19 L311.54,376.75 L312.28,376.87 L312.97,377.51 L313.61,378.58 L314.21,379.92 L314.79,381.35 L315.36,382.66 L315.95,383.68 L316.58,384.28 L317.25,384.39 L317.97,384.01 L318.74,383.21 L319.53,382.12 L320.34,380.89 L321.14,379.7 L321.91,378.72 L322.64,378.07 L323.31,377.84 L323.93,378.07 L324.51,378.72 L325.07,379.72 L325.72,381.22 L326.33,382.81 L326.93,384.22 L327.55,385.21 L328.25,385.62 L329.04,385.41 L329.93,384.62 L330.91,383.44 L331.93,382.09 L332.94,380.84 L333.89,379.92 L334.74,379.51 L335.47,379.67 L336.08,380.39 L336.61,381.56 L337.08,382.99 L337.54,384.48 L338.03,385.83 L338.59,386.86 L339.22,387.46 L339.91,387.59 L340.66,387.26 L341.42,386.55 L342.16,385.58 L342.85,384.47 L343.48,383.36 L344.01,382.36 L344.47,381.55 L344.8,380.99 L345.48,380.66 L346.25,381.15 L347.29,382.21 L348.59,383.49 L350.03,384.62 L351.42,385.32 L352.56,385.45 L353.34,385.01 L353.74,384.08 L353.81,382.84 L353.67,381.47 L353.46,380.13 L353.3,378.92 L353.28,377.89 L353.46,377.07 L353.71,376.5" fill="none" stroke="#aea873" stroke-width="2.5"/>
<path d="M93.1,383.1 L93,383.93 L92.82,384.82 L92.65,385.7 L92.57,386.53 L92.68,387.21 L93.06,387.68 L93.78,387.86 L94.84,387.73 L96.18,387.32 L97.69,386.73 L99.2,386.11 L100.52,385.66 L101.51,385.58 L102.09,386 L102.29,386.99 L102.23,388.48 L102.12,390.28 L102.14,392.12 L102.47,393.67 L103.18,394.64 L104.23,394.86 L105.5,394.28 L106.79,393.06 L107.93,391.49 L108.88,389.97 L109.28,389.27 L109.7,388.8 L110.13,388.63 L110.61,388.78 L111.18,389.27 L111.85,390.05 L112.62,391.05 L113.48,392.14 L114.39,393.2 L115.3,394.05 L116.17,394.56 L116.95,394.61 L117.59,394.17 L118.09,393.25 L118.46,391.93 L118.75,390.38 L119.02,388.81 L119.35,387.44 L119.81,386.45 L120.45,385.99 L121.29,386.12 L122.31,386.76 L123.48,387.79 L124.69,388.98 L125.88,390.08 L126.94,390.85 L127.83,391.1 L128.51,390.74 L129.02,389.79 L129.39,388.39 L129.71,386.74 L130.06,385.11 L130.51,383.73 L131.1,382.83 L131.86,382.51 L132.75,382.79 L133.74,383.59 L134.76,384.75 L135.75,386.04 L136.66,387.24 L137.46,388.13 L138.16,388.58 L138.79,388.52 L139.39,387.96 L139.99,386.99 L140.6,385.73 L141.24,384.37 L141.91,383.07 L142.62,382.04 L143.34,381.4 L144.06,381.25 L144.78,381.61 L145.47,382.43 L146.13,383.59 L146.76,384.95 L147.37,386.31 L147.97,387.49 L148.58,388.33 L149.23,388.71 L149.91,388.58 L150.65,387.98 L151.43,386.99 L152.25,385.76 L153.1,384.48 L153.94,383.35 L154.75,382.53 L155.51,382.17 L156.21,382.33 L156.85,382.99 L157.43,384.09 L157.96,385.47 L158.49,386.94 L159.03,388.3 L159.61,389.35 L160.25,389.95 L160.97,390.02 L161.76,389.56 L162.61,388.64 L163.5,387.43 L164.4,386.11 L165.28,384.92 L166.11,384.04 L166.89,383.64 L167.6,383.8 L168.25,384.5 L168.85,385.66 L169.44,387.1 L169.97,388.5 L170.5,389.78 L171.05,390.77 L171.64,391.35 L172.31,391.42 L173.07,390.99 L173.91,390.13 L174.82,388.97 L175.76,387.71 L176.7,386.55 L177.6,385.7 L178.42,385.3 L179.15,385.45 L179.77,386.14 L180.3,387.29 L180.77,388.75 L181.22,390.3 L181.69,391.72 L182.24,392.8 L182.89,393.39 L183.64,393.41 L184.5,392.89 L185.44,391.92 L186.42,390.68 L187.39,389.4 L188.32,388.3 L189.17,387.57 L189.93,387.36 L190.59,387.69 L191.18,388.55 L191.73,389.81 L192.26,391.28 L192.82,392.74 L193.42,394 L194.09,394.86 L194.81,395.21 L195.58,395.02 L196.38,394.33 L197.17,393.24 L197.93,391.94 L198.65,390.61 L199.33,389.44 L199.96,388.61 L200.58,388.22 L201.2,388.31 L201.85,388.85 L202.56,389.77 L203.32,390.92 L204.21,392.21 L205.17,393.35 L206.13,394.16 L207.04,394.5 L207.82,394.33 L208.45,393.63 L208.89,392.51 L209.17,391.09 L209.35,389.55 L209.5,388.08 L209.7,386.86 L210.04,386.02 L210.6,385.65 L211.38,385.74 L212.4,386.24 L213.59,387.03 L214.87,387.93 L216.14,388.78 L217.3,389.37 L218.25,389.59 L218.94,389.34 L219.37,388.61 L219.56,387.46 L219.58,386.01 L219.54,384.43 L219.56,382.9 L219.72,381.61 L220.1,380.71 L220.74,380.29 L221.62,380.36 L222.7,380.88 L223.9,381.73 L225.11,382.73 L226.26,383.69 L227.26,384.43 L228.07,384.8 L228.7,384.69 L229.17,384.09 L229.55,383.03 L229.91,381.65 L230.31,380.13 L230.82,378.67 L231.47,377.5 L232.24,376.78 L233.08,376.65 L233.84,377.02 L234.57,377.79 L235.25,378.89 L235.88,380.17 L236.45,381.48 L236.98,382.66 L237.52,383.53 L238.08,383.99 L238.72,383.97 L239.45,383.48 L240.29,382.58 L241.22,381.43 L242.2,380.2 L243.2,379.11 L244.14,378.36 L245,378.08 L245.72,378.36 L246.3,379.19 L246.74,380.47 L247.1,382.02 L247.43,383.63 L247.8,385.05 L248.27,386.09 L248.9,386.59 L249.71,386.51 L250.68,385.9 L251.78,384.89 L252.94,383.7 L254.08,382.56 L255.13,381.71 L256.03,381.32 L256.76,381.5 L257.31,382.25 L257.73,383.47 L258.07,384.99 L258.4,386.59 L258.78,388.04 L259.28,389.14 L259.9,389.76 L260.67,389.82 L261.55,389.35 L262.51,388.47 L263.49,387.33 L264.44,386.12 L265.32,385.04 L266.1,384.26 L266.79,383.89 L267.39,383.98 L267.93,384.52 L268.45,385.43 L268.98,386.6 L269.56,387.87 L270.2,389.09 L271.03,390.32 L271.9,391.07 L272.76,391.2 L273.56,390.7 L274.28,389.65 L274.89,388.22 L275.43,386.65 L275.92,385.19 L276.42,384.04 L276.99,383.39 L277.68,383.29 L278.51,383.75 L279.47,384.64 L280.54,385.78 L281.64,386.97 L282.73,387.98 L283.72,388.6 L284.56,388.73 L285.22,388.3 L285.7,387.36 L286.04,386.03 L286.29,384.48 L286.52,382.93 L286.81,381.56 L287.22,380.56 L287.8,380.04 L288.56,380.03 L289.48,380.49 L290.52,381.33 L291.6,382.37 L292.68,383.44 L293.68,384.35 L294.55,384.96 L295.28,385.16 L295.87,384.89 L296.33,384.18 L296.71,383.11 L297.06,381.8 L297.44,380.4 L297.87,379.08 L298.39,377.98 L299.01,377.24 L299.69,376.92 L300.56,377.15 L301.46,377.97 L302.35,379.21 L303.21,380.65 L304.03,382.03 L304.79,383.1 L305.52,383.68 L306.23,383.69 L306.94,383.13 L307.66,382.09 L308.41,380.77 L309.19,379.36 L309.98,378.1 L310.77,377.19 L311.54,376.75 L312.28,376.87 L312.97,377.51 L313.61,378.58 L314.21,379.92 L314.79,381.35 L315.36,382.66 L315.95,383.68 L316.58,384.28 L317.25,384.39 L317.97,384.01 L318.74,383.21 L319.53,382.12 L320.34,380.89 L321.14,379.7 L321.91,378.72 L322.64,378.07 L323.31,377.84 L323.93,378.07 L324.51,378.72 L325.07,379.72 L325.72,381.22 L326.33,382.81 L326.93,384.22 L327.55,385.21 L328.25,385.62 L329.04,385.41 L329.93,384.62 L330.91,383.44 L331.93,382.09 L332.94,380.84 L333.89,379.92 L334.74,379.51 L335.47,379.67 L336.08,380.39 L336.61,381.56 L337.08,382.99 L337.54,384.48 L338.03,385.83 L338.59,386.86 L339.22,387.46 L339.91,387.59 L340.66,387.26 L341.42,386.55 L342.16,385.58 L342.85,384.47 L343.48,383.36 L344.01,382.36 L344.47,381.55 L344.8,380.99 L345.48,380.66 L346.25,381.15 L347.29,382.21 L348.59,383.49 L350.03,384.62 L351.42,385.32 L352.56,385.45 L353.34,385.01 L353.74,384.08 L353.81,382.84 L353.67,381.47 L353.46,380.13 L353.3,378.92 L353.28,377.89 L353.46,377.07 L353.71,376.5" fill="none" stroke="#ece8b6" stroke-width="1.2"/>
<circle cx="108.75" cy="392.25" r="7.4" fill="#e6e6ea"/>
<circle cx="138.5" cy="385" r="7.4" fill="#e6e6ea"/>
<circle cx="169.4" cy="387.5" r="7.4" fill="#e6e6ea"/>
<circle cx="203.4" cy="391.6" r="7.4" fill="#e6e6ea"/>
<circle cx="233.3" cy="380.2" r="7.4" fill="#e6e6ea"/>
<circle cx="270.2" cy="387.7" r="7.4" fill="#e6e6ea"/>
<circle cx="300.1" cy="380.5" r="7.4" fill="#e6e6ea"/>
<circle cx="324.9" cy="381.6" r="7.4" fill="#e6e6ea"/>
<circle cx="345.1" cy="384.3" r="7.4" fill="#e6e6ea"/>
<path d="M485.5,384 L485.66,384.8 L485.83,385.66 L486.02,386.51 L486.26,387.29 L486.6,387.9 L487.05,388.26 L487.65,388.29 L488.42,387.96 L489.33,387.29 L490.38,386.36 L491.49,385.29 L492.6,384.28 L493.63,383.55 L494.52,383.27 L495.23,383.57 L495.75,384.48 L496.12,385.9 L496.41,387.62 L496.72,389.36 L497.14,390.82 L497.75,391.74 L498.58,391.97 L499.61,391.51 L500.78,390.49 L502,389.18 L503.18,387.88 L504.24,386.89 L505.13,386.43 L505.86,386.62 L506.44,387.41 L506.95,388.68 L507.44,390.2 L507.98,391.72 L508.58,393.02 L509.27,393.93 L510.03,394.35 L510.8,394.28 L511.57,393.76 L512.39,392.66 L513.05,391.24 L513.55,389.73 L513.93,388.35 L514.27,387.29 L514.68,386.67 L515.24,386.53 L516.01,386.85 L516.99,387.53 L518.15,388.43 L519.4,389.37 L520.65,390.17 L521.76,390.68 L522.67,390.77 L523.3,390.38 L523.66,389.53 L523.79,388.29 L523.78,386.78 L523.74,385.18 L523.8,383.69 L524.06,382.48 L524.57,381.7 L525.35,381.43 L526.35,381.69 L527.49,382.4 L528.67,383.45 L529.78,384.62 L530.75,385.7 L531.55,386.47 L532.19,386.75 L532.8,386.43 L533.29,385.75 L533.83,384.76 L534.41,383.55 L535.05,382.27 L535.73,381.09 L536.46,380.15 L537.19,379.59 L537.93,379.5 L538.63,379.91 L539.28,380.78 L539.89,382 L540.46,383.41 L541,384.83 L541.54,386.05 L542.12,386.89 L542.77,387.24 L543.51,387.05 L544.33,386.36 L545.24,385.28 L546.2,384.01 L547.17,382.76 L548.12,381.76 L549,381.18 L549.77,381.16 L550.43,381.72 L550.99,382.78 L551.47,384.21 L551.91,385.79 L552.37,387.28 L552.89,388.47 L553.5,389.18 L554.23,389.32 L555.08,388.9 L556.02,388.01 L557.02,386.83 L558.03,385.57 L559.01,384.45 L559.9,383.68 L560.7,383.39 L561.41,383.64 L562.01,384.39 L562.49,385.55 L562.87,386.99 L563.18,388.51 L563.49,389.92 L563.87,391.04 L564.37,391.73 L565.04,391.91 L565.89,391.58 L566.9,390.82 L568.03,389.8 L569.19,388.7 L570.32,387.73 L571.33,387.09 L572.18,386.91 L572.82,387.26 L573.29,388.12 L573.6,389.4 L573.83,390.93 L574.07,392.51 L574.37,393.92 L574.8,394.99 L575.41,395.59 L576.18,395.65 L577.09,395.21 L578.1,394.36 L579.14,393.26 L580.15,392.1 L581.08,391.07 L581.89,390.35 L582.58,390.04 L583.17,390.21 L583.69,390.85 L584.19,391.87 L584.72,393.15 L585.3,394.5 L585.97,395.76 L586.72,396.76 L587.51,397.36 L588.32,397.48 L589.09,397.1 L589.76,396.27 L590.29,395.07 L590.69,393.66 L590.99,392.22 L591.26,390.91 L591.56,389.89 L591.98,389.28 L592.58,389.13 L593.39,389.43 L594.42,390.09 L595.62,390.98 L596.89,391.92 L598.14,392.72 L599.27,393.2 L600.17,393.24 L600.79,392.77 L601.12,391.82 L601.21,390.48 L601.15,388.9 L601.05,387.28 L601.05,385.82 L601.25,384.69 L601.72,384.02 L602.5,383.85 L603.55,384.16 L604.79,384.82 L606.13,385.68 L607.43,386.55 L608.59,387.24 L609.54,387.6 L610.24,387.53 L610.7,386.99 L610.96,386.03 L611.12,384.75 L611.25,383.28 L611.44,381.8 L611.76,380.49 L612.25,379.48 L612.89,378.89 L613.66,378.77 L614.55,379.18 L615.49,380.04 L616.43,381.21 L617.33,382.48 L618.17,383.65 L618.94,384.53 L619.63,384.99 L620.28,384.94 L620.89,384.4 L621.5,383.44 L622.13,382.18 L622.79,380.81 L623.49,379.51 L624.22,378.48 L624.96,377.86 L625.69,377.73 L626.41,378.12 L627.1,378.98 L627.74,380.19 L628.36,381.59 L628.95,382.97 L629.54,384.14 L630.16,384.95 L630.81,385.28 L631.53,385.09 L632.3,384.4 L633.12,383.34 L633.98,382.07 L634.86,380.78 L635.72,379.69 L636.54,378.98 L637.3,378.78 L637.99,379.13 L638.62,380 L639.2,381.28 L639.76,382.78 L640.31,384.27 L640.81,385.42 L641.32,386.25 L641.9,386.65 L642.57,386.55 L643.36,385.98 L644.25,385.04 L645.24,383.88 L646.27,382.69 L647.28,381.68 L648.22,381.04 L649.04,380.9 L649.71,381.32 L650.23,382.27 L650.63,383.63 L650.96,385.2 L651.28,386.78 L651.67,388.13 L652.18,389.06 L652.85,389.45 L653.68,389.27 L654.66,388.59 L655.73,387.55 L656.83,386.35 L657.9,385.23 L658.87,384.38 L659.7,383.97 L660.39,384.09 L660.95,384.74 L661.41,385.83 L661.82,387.22 L662.24,388.72 L662.72,390.11 L663.27,391.23 L663.92,391.93 L664.64,392.15 L665.42,391.87 L666.22,391.15 L667,390.11 L667.72,388.89 L668.36,387.65 L668.93,386.55 L669.53,385.6 L670.1,385.14 L670.71,385.21 L671.43,385.79 L672.28,386.75 L673.25,387.92 L674.29,389.09 L675.36,390.07 L676.36,390.67 L677.23,390.79 L677.92,390.39 L678.4,389.49 L678.7,388.2 L678.87,386.69 L678.98,385.13 L679.14,383.72 L679.42,382.63 L679.89,381.97 L680.59,381.8 L681.51,382.09 L682.59,382.76 L683.78,383.67 L684.97,384.65 L686.09,385.51 L687.06,386.09 L687.84,386.28 L688.42,386.02 L688.82,385.3 L689.11,384.21 L689.36,382.85 L689.63,381.39 L690,379.99 L690.49,378.84 L691.13,378.05 L691.87,377.74 L692.7,377.95 L693.55,378.66 L694.38,379.72 L695.17,380.99 L695.9,382.27 L696.58,383.38 L697.22,384.17 L697.84,384.54 L698.46,384.44 L699.1,383.9 L699.78,382.98 L700.51,381.81 L701.26,380.54 L702.03,379.36 L702.8,378.42 L703.54,377.86 L704.24,377.76 L704.9,378.15 L705.5,378.99 L706.08,380.18 L706.64,381.56 L707.22,382.97 L707.83,384.19 L708.49,385.05 L709.21,385.42 L709.97,385.25 L710.78,384.53 L711.59,383.38 L712.4,381.97 L713.19,380.54 L713.94,379.34 L714.67,378.58 L715.42,378.43 L716.04,378.78 L716.71,379.55 L717.43,380.66 L718.18,381.98 L718.97,383.32 L719.77,384.46 L720.57,385.19 L721.35,385.34 L722.11,384.87 L722.85,383.81 L723.56,382.34 L724.27,380.71 L724.98,379.24 L725.73,378.21 L726.52,377.81 L727.37,378.13 L728.26,379.09 L729.19,380.49 L730.13,382.03 L731.05,383.39 L731.94,384.3 L732.78,384.57 L733.55,384.16 L734.27,383.16 L734.94,381.75 L735.59,380.2 L736.23,378.77 L736.88,377.67 L737.55,377.05 L738.25,376.97 L738.97,377.38 L739.7,378.19 L740.43,379.24 L741.13,380.38 L741.81,381.46 L742.45,382.39 L743.04,383.07 L743.57,383.5 L744.06,383.66 L744.49,383.61 L744.87,383.37 L745.21,383.02" fill="none" stroke="#aea873" stroke-width="2.5"/>
<path d="M485.5,384 L485.66,384.8 L485.83,385.66 L486.02,386.51 L486.26,387.29 L486.6,387.9 L487.05,388.26 L487.65,388.29 L488.42,387.96 L489.33,387.29 L490.38,386.36 L491.49,385.29 L492.6,384.28 L493.63,383.55 L494.52,383.27 L495.23,383.57 L495.75,384.48 L496.12,385.9 L496.41,387.62 L496.72,389.36 L497.14,390.82 L497.75,391.74 L498.58,391.97 L499.61,391.51 L500.78,390.49 L502,389.18 L503.18,387.88 L504.24,386.89 L505.13,386.43 L505.86,386.62 L506.44,387.41 L506.95,388.68 L507.44,390.2 L507.98,391.72 L508.58,393.02 L509.27,393.93 L510.03,394.35 L510.8,394.28 L511.57,393.76 L512.39,392.66 L513.05,391.24 L513.55,389.73 L513.93,388.35 L514.27,387.29 L514.68,386.67 L515.24,386.53 L516.01,386.85 L516.99,387.53 L518.15,388.43 L519.4,389.37 L520.65,390.17 L521.76,390.68 L522.67,390.77 L523.3,390.38 L523.66,389.53 L523.79,388.29 L523.78,386.78 L523.74,385.18 L523.8,383.69 L524.06,382.48 L524.57,381.7 L525.35,381.43 L526.35,381.69 L527.49,382.4 L528.67,383.45 L529.78,384.62 L530.75,385.7 L531.55,386.47 L532.19,386.75 L532.8,386.43 L533.29,385.75 L533.83,384.76 L534.41,383.55 L535.05,382.27 L535.73,381.09 L536.46,380.15 L537.19,379.59 L537.93,379.5 L538.63,379.91 L539.28,380.78 L539.89,382 L540.46,383.41 L541,384.83 L541.54,386.05 L542.12,386.89 L542.77,387.24 L543.51,387.05 L544.33,386.36 L545.24,385.28 L546.2,384.01 L547.17,382.76 L548.12,381.76 L549,381.18 L549.77,381.16 L550.43,381.72 L550.99,382.78 L551.47,384.21 L551.91,385.79 L552.37,387.28 L552.89,388.47 L553.5,389.18 L554.23,389.32 L555.08,388.9 L556.02,388.01 L557.02,386.83 L558.03,385.57 L559.01,384.45 L559.9,383.68 L560.7,383.39 L561.41,383.64 L562.01,384.39 L562.49,385.55 L562.87,386.99 L563.18,388.51 L563.49,389.92 L563.87,391.04 L564.37,391.73 L565.04,391.91 L565.89,391.58 L566.9,390.82 L568.03,389.8 L569.19,388.7 L570.32,387.73 L571.33,387.09 L572.18,386.91 L572.82,387.26 L573.29,388.12 L573.6,389.4 L573.83,390.93 L574.07,392.51 L574.37,393.92 L574.8,394.99 L575.41,395.59 L576.18,395.65 L577.09,395.21 L578.1,394.36 L579.14,393.26 L580.15,392.1 L581.08,391.07 L581.89,390.35 L582.58,390.04 L583.17,390.21 L583.69,390.85 L584.19,391.87 L584.72,393.15 L585.3,394.5 L585.97,395.76 L586.72,396.76 L587.51,397.36 L588.32,397.48 L589.09,397.1 L589.76,396.27 L590.29,395.07 L590.69,393.66 L590.99,392.22 L591.26,390.91 L591.56,389.89 L591.98,389.28 L592.58,389.13 L593.39,389.43 L594.42,390.09 L595.62,390.98 L596.89,391.92 L598.14,392.72 L599.27,393.2 L600.17,393.24 L600.79,392.77 L601.12,391.82 L601.21,390.48 L601.15,388.9 L601.05,387.28 L601.05,385.82 L601.25,384.69 L601.72,384.02 L602.5,383.85 L603.55,384.16 L604.79,384.82 L606.13,385.68 L607.43,386.55 L608.59,387.24 L609.54,387.6 L610.24,387.53 L610.7,386.99 L610.96,386.03 L611.12,384.75 L611.25,383.28 L611.44,381.8 L611.76,380.49 L612.25,379.48 L612.89,378.89 L613.66,378.77 L614.55,379.18 L615.49,380.04 L616.43,381.21 L617.33,382.48 L618.17,383.65 L618.94,384.53 L619.63,384.99 L620.28,384.94 L620.89,384.4 L621.5,383.44 L622.13,382.18 L622.79,380.81 L623.49,379.51 L624.22,378.48 L624.96,377.86 L625.69,377.73 L626.41,378.12 L627.1,378.98 L627.74,380.19 L628.36,381.59 L628.95,382.97 L629.54,384.14 L630.16,384.95 L630.81,385.28 L631.53,385.09 L632.3,384.4 L633.12,383.34 L633.98,382.07 L634.86,380.78 L635.72,379.69 L636.54,378.98 L637.3,378.78 L637.99,379.13 L638.62,380 L639.2,381.28 L639.76,382.78 L640.31,384.27 L640.81,385.42 L641.32,386.25 L641.9,386.65 L642.57,386.55 L643.36,385.98 L644.25,385.04 L645.24,383.88 L646.27,382.69 L647.28,381.68 L648.22,381.04 L649.04,380.9 L649.71,381.32 L650.23,382.27 L650.63,383.63 L650.96,385.2 L651.28,386.78 L651.67,388.13 L652.18,389.06 L652.85,389.45 L653.68,389.27 L654.66,388.59 L655.73,387.55 L656.83,386.35 L657.9,385.23 L658.87,384.38 L659.7,383.97 L660.39,384.09 L660.95,384.74 L661.41,385.83 L661.82,387.22 L662.24,388.72 L662.72,390.11 L663.27,391.23 L663.92,391.93 L664.64,392.15 L665.42,391.87 L666.22,391.15 L667,390.11 L667.72,388.89 L668.36,387.65 L668.93,386.55 L669.53,385.6 L670.1,385.14 L670.71,385.21 L671.43,385.79 L672.28,386.75 L673.25,387.92 L674.29,389.09 L675.36,390.07 L676.36,390.67 L677.23,390.79 L677.92,390.39 L678.4,389.49 L678.7,388.2 L678.87,386.69 L678.98,385.13 L679.14,383.72 L679.42,382.63 L679.89,381.97 L680.59,381.8 L681.51,382.09 L682.59,382.76 L683.78,383.67 L684.97,384.65 L686.09,385.51 L687.06,386.09 L687.84,386.28 L688.42,386.02 L688.82,385.3 L689.11,384.21 L689.36,382.85 L689.63,381.39 L690,379.99 L690.49,378.84 L691.13,378.05 L691.87,377.74 L692.7,377.95 L693.55,378.66 L694.38,379.72 L695.17,380.99 L695.9,382.27 L696.58,383.38 L697.22,384.17 L697.84,384.54 L698.46,384.44 L699.1,383.9 L699.78,382.98 L700.51,381.81 L701.26,380.54 L702.03,379.36 L702.8,378.42 L703.54,377.86 L704.24,377.76 L704.9,378.15 L705.5,378.99 L706.08,380.18 L706.64,381.56 L707.22,382.97 L707.83,384.19 L708.49,385.05 L709.21,385.42 L709.97,385.25 L710.78,384.53 L711.59,383.38 L712.4,381.97 L713.19,380.54 L713.94,379.34 L714.67,378.58 L715.42,378.43 L716.04,378.78 L716.71,379.55 L717.43,380.66 L718.18,381.98 L718.97,383.32 L719.77,384.46 L720.57,385.19 L721.35,385.34 L722.11,384.87 L722.85,383.81 L723.56,382.34 L724.27,380.71 L724.98,379.24 L725.73,378.21 L726.52,377.81 L727.37,378.13 L728.26,379.09 L729.19,380.49 L730.13,382.03 L731.05,383.39 L731.94,384.3 L732.78,384.57 L733.55,384.16 L734.27,383.16 L734.94,381.75 L735.59,380.2 L736.23,378.77 L736.88,377.67 L737.55,377.05 L738.25,376.97 L738.97,377.38 L739.7,378.19 L740.43,379.24 L741.13,380.38 L741.81,381.46 L742.45,382.39 L743.04,383.07 L743.57,383.5 L744.06,383.66 L744.49,383.61 L744.87,383.37 L745.21,383.02" fill="none" stroke="#ece8b6" stroke-width="1.2"/>
<circle cx="511.5" cy="390.8" r="6.9" fill="#f0bb8e" stroke="#d9a177" stroke-width="0.5"/>
<path d="M511.5,387.12 L511.5,394.48 M508.94,388.4 C508.94,392.72 514.06,392.72 514.06,388.4" fill="none" stroke="#3a2216" stroke-width="1.45"/>
<circle cx="532.5" cy="383.1" r="6.9" fill="#f0bb8e" stroke="#d9a177" stroke-width="0.5"/>
<path d="M532.5,379.42 L532.5,386.78 M529.94,380.7 C529.94,385.02 535.06,385.02 535.06,380.7" fill="none" stroke="#3a2216" stroke-width="1.45"/>
<circle cx="560" cy="386.9" r="6.9" fill="#f0bb8e" stroke="#d9a177" stroke-width="0.5"/>
<path d="M560,383.22 L560,390.58 M557.44,384.5 C557.44,388.82 562.56,388.82 562.56,384.5" fill="none" stroke="#3a2216" stroke-width="1.45"/>
<circle cx="588" cy="393.9" r="6.9" fill="#f0bb8e" stroke="#d9a177" stroke-width="0.5"/>
<path d="M588,390.22 L588,397.58 M585.44,391.5 C585.44,395.82 590.56,395.82 590.56,391.5" fill="none" stroke="#3a2216" stroke-width="1.45"/>
<circle cx="614.4" cy="382.2" r="6.9" fill="#f0bb8e" stroke="#d9a177" stroke-width="0.5"/>
<path d="M614.4,378.52 L614.4,385.88 M611.84,379.8 C611.84,384.12 616.96,384.12 616.96,379.8" fill="none" stroke="#3a2216" stroke-width="1.45"/>
<circle cx="640.5" cy="382.8" r="6.9" fill="#f0bb8e" stroke="#d9a177" stroke-width="0.5"/>
<path d="M640.5,379.12 L640.5,386.48 M637.94,380.4 C637.94,384.72 643.06,384.72 643.06,380.4" fill="none" stroke="#3a2216" stroke-width="1.45"/>
<circle cx="669" cy="388.8" r="6.9" fill="#f0bb8e" stroke="#d9a177" stroke-width="0.5"/>
<path d="M669,385.12 L669,392.48 M666.44,386.4 C666.44,390.72 671.56,390.72 671.56,386.4" fill="none" stroke="#3a2216" stroke-width="1.45"/>
<circle cx="692.4" cy="381.3" r="6.9" fill="#f0bb8e" stroke="#d9a177" stroke-width="0.5"/>
<path d="M692.4,377.62 L692.4,384.98 M689.84,378.9 C689.84,383.22 694.96,383.22 694.96,378.9" fill="none" stroke="#3a2216" stroke-width="1.45"/>
<circle cx="715.5" cy="382" r="6.9" fill="#f0bb8e" stroke="#d9a177" stroke-width="0.5"/>
<path d="M715.5,378.32 L715.5,385.68 M712.94,379.6 C712.94,383.92 718.06,383.92 718.06,379.6" fill="none" stroke="#3a2216" stroke-width="1.45"/>
<line x1="212.9" y1="557.5" x2="212.9" y2="585" stroke="#111" stroke-width="1.6"/>
<path d="M207.5,580.5 L218.3,580.5 L212.9,599.1 Z" fill="#111"/>
<line x1="621.5" y1="557.5" x2="621.5" y2="585" stroke="#111" stroke-width="1.6"/>
<path d="M616.1,580.5 L626.9,580.5 L621.5,599.1 Z" fill="#111"/>
<circle cx="184.9" cy="584.3" r="4.8" fill="#89c9cf"/>
<circle cx="232.7" cy="589.8" r="4.8" fill="#89c9cf"/>
<circle cx="173.5" cy="601.1" r="4.8" fill="#89c9cf"/>
<circle cx="194.5" cy="607.2" r="4.8" fill="#89c9cf"/>
<circle cx="253.8" cy="604.6" r="4.8" fill="#89c9cf"/>
<circle cx="235.9" cy="610.8" r="4.8" fill="#89c9cf"/>
<circle cx="178.4" cy="616.7" r="4.8" fill="#89c9cf"/>
<circle cx="186.1" cy="625.9" r="4.8" fill="#89c9cf"/>
<circle cx="200.5" cy="624" r="4.8" fill="#89c9cf"/>
<circle cx="226.1" cy="622.5" r="4.8" fill="#89c9cf"/>
<circle cx="258.8" cy="622.1" r="4.8" fill="#89c9cf"/>
<circle cx="167" cy="633.3" r="4.8" fill="#89c9cf"/>
<circle cx="237.5" cy="630.2" r="4.8" fill="#89c9cf"/>
<circle cx="188" cy="639.6" r="4.8" fill="#89c9cf"/>
<circle cx="219.9" cy="639.3" r="4.8" fill="#89c9cf"/>
<circle cx="211.8" cy="643.5" r="4.8" fill="#89c9cf"/>
<circle cx="247.4" cy="636.9" r="4.8" fill="#89c9cf"/>
<circle cx="205.1" cy="654.7" r="4.8" fill="#89c9cf"/>
<circle cx="179.4" cy="658.6" r="4.8" fill="#89c9cf"/>
<circle cx="230.8" cy="662.6" r="4.8" fill="#89c9cf"/>
<circle cx="258.5" cy="655.9" r="4.8" fill="#89c9cf"/>
<circle cx="205.1" cy="675.7" r="4.8" fill="#89c9cf"/>
<circle cx="593.7" cy="583.1" r="4.8" fill="#89c9cf"/>
<circle cx="641.5" cy="588.6" r="4.8" fill="#89c9cf"/>
<circle cx="582.3" cy="599.9" r="4.8" fill="#89c9cf"/>
<circle cx="603.3" cy="606" r="4.8" fill="#89c9cf"/>
<circle cx="662.6" cy="603.4" r="4.8" fill="#89c9cf"/>
<circle cx="644.7" cy="609.6" r="4.8" fill="#89c9cf"/>
<circle cx="587.2" cy="615.5" r="4.8" fill="#89c9cf"/>
<circle cx="594.9" cy="624.7" r="4.8" fill="#89c9cf"/>
<circle cx="609.3" cy="622.8" r="4.8" fill="#89c9cf"/>
<circle cx="634.9" cy="621.3" r="4.8" fill="#89c9cf"/>
<circle cx="667.6" cy="620.9" r="4.8" fill="#89c9cf"/>
<circle cx="575.8" cy="632.1" r="4.8" fill="#89c9cf"/>
<circle cx="646.3" cy="629" r="4.8" fill="#89c9cf"/>
<circle cx="596.8" cy="638.4" r="4.8" fill="#89c9cf"/>
<circle cx="628.7" cy="638.1" r="4.8" fill="#89c9cf"/>
<circle cx="620.6" cy="642.3" r="4.8" fill="#89c9cf"/>
<circle cx="656.2" cy="635.7" r="4.8" fill="#89c9cf"/>
<circle cx="613.9" cy="653.5" r="4.8" fill="#89c9cf"/>
<circle cx="588.2" cy="657.4" r="4.8" fill="#89c9cf"/>
<circle cx="639.6" cy="661.4" r="4.8" fill="#89c9cf"/>
<circle cx="667.3" cy="654.7" r="4.8" fill="#89c9cf"/>
<circle cx="613.9" cy="674.5" r="4.8" fill="#89c9cf"/>
<path d="M573.5,575.2 L670.3,671.1 M670.3,575.2 L573.5,671.1" fill="none" stroke="#ffffff" stroke-opacity="0.75" stroke-width="9" stroke-linecap="round"/>
<path d="M573.5,575.2 L670.3,671.1 M670.3,575.2 L573.5,671.1" fill="none" stroke="#e2656a" stroke-width="5.2" stroke-linecap="round"/>
<text transform="translate(136.75,621.2) scale(0.6600,1)" x="0" y="0" font-size="22.8" font-weight="700" fill="#1a1a1a" stroke="#1a1a1a" stroke-width="0.4" text-anchor="end" textLength="158.33" lengthAdjust="spacing">Inflammatory</text>
<text transform="translate(136.75,648.9) scale(0.6600,1)" x="0" y="0" font-size="22.8" font-weight="700" fill="#1a1a1a" stroke="#1a1a1a" stroke-width="0.4" text-anchor="end" textLength="105.68" lengthAdjust="spacing">response</text>
<text transform="translate(544.25,621.2) scale(0.6600,1)" x="0" y="0" font-size="22.8" font-weight="700" fill="#1a1a1a" stroke="#1a1a1a" stroke-width="0.4" text-anchor="end" textLength="158.33" lengthAdjust="spacing">Inflammatory</text>
<text transform="translate(544.25,648.9) scale(0.6600,1)" x="0" y="0" font-size="22.8" font-weight="700" fill="#1a1a1a" stroke="#1a1a1a" stroke-width="0.4" text-anchor="end" textLength="105.68" lengthAdjust="spacing">response</text>
</svg></body></html>
